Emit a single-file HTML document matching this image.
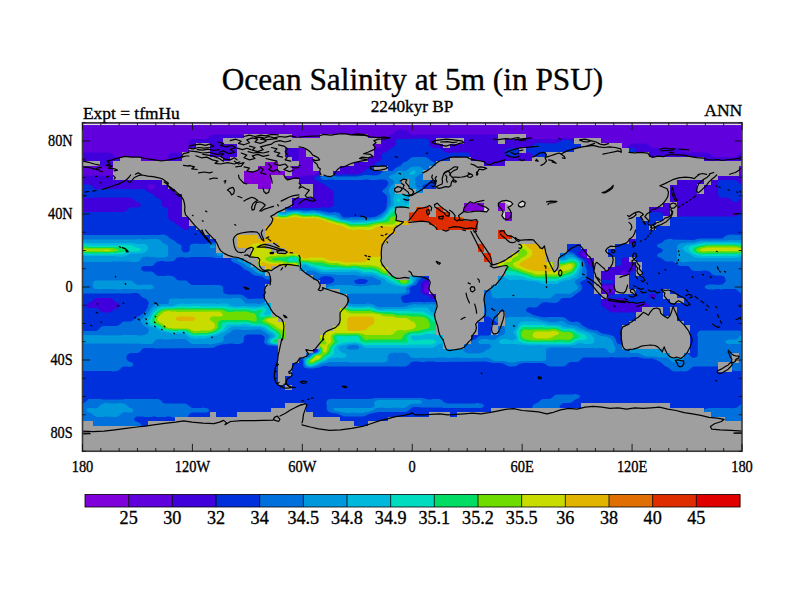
<!DOCTYPE html>
<html><head><meta charset="utf-8"><title>Ocean Salinity</title>
<style>html,body{margin:0;padding:0;background:#fff;width:800px;height:600px;overflow:hidden}</style></head>
<body>
<svg width="800" height="600" viewBox="0 0 800 600" style="position:absolute;left:0;top:0">
<rect width="800" height="600" fill="#fff"/>
<rect x="82.5" y="122.75" width="659.5" height="328.5" fill="#0030dc"/>
<clipPath id="pc"><rect x="82.5" y="122.75" width="659.5" height="328.5"/></clipPath>
<g clip-path="url(#pc)">
<rect x="82.5" y="122.75" width="659.5" height="328.5" fill="#8000dc"/>
<path fill="#6000dc" fill-rule="evenodd" d="M82.8 123.0L82.8 451.0L741.8 451.0L741.8 123.0ZM452.8 194.0L455.2 192.5L456.2 192.5L465.2 186.0L467.8 185.5L468.2 185.0L474.2 185.0L474.8 185.5L479.2 185.5L479.8 185.0L528.2 185.0L528.8 185.5L531.8 185.5L537.8 188.0L539.8 188.0L540.2 188.5L545.2 188.5L545.8 189.0L548.8 189.0L549.2 189.5L550.2 189.5L553.2 191.0L555.8 193.0L557.2 193.5L565.2 199.0L566.8 200.5L566.8 203.0L562.8 206.5L559.2 208.0L556.8 210.0L554.8 210.5L547.8 214.5L544.8 215.0L541.2 217.0L534.2 218.0L531.8 219.5L527.8 220.5L522.8 223.5L512.2 223.5L511.8 223.0L509.2 223.0L508.8 223.5L502.8 223.5L502.2 223.0L500.8 223.0L496.8 219.5L493.2 218.0L491.8 216.5L488.2 214.5L485.2 214.5L484.8 214.0L473.2 214.0L470.8 212.5L469.2 210.5L462.2 210.5L461.2 210.0L459.8 208.0L459.8 201.5L458.8 199.5L457.2 198.0L453.8 196.5L452.8 195.5ZM287.2 169.0L287.2 171.0L285.8 173.5L285.2 175.5L282.2 178.5L280.8 179.0L278.8 181.0L278.8 183.0L282.2 186.5L282.2 188.5L279.8 192.5L279.8 193.5L276.2 196.5L274.8 196.5L274.2 197.0L265.8 197.5L265.2 198.0L263.8 198.0L263.2 198.5L262.2 198.5L258.8 200.0L256.8 200.0L256.2 200.5L250.2 200.5L249.8 201.0L247.2 201.0L245.2 202.0L242.2 204.5L241.2 204.5L240.8 205.0L238.2 205.0L237.8 205.5L230.2 205.5L229.8 205.0L227.8 205.0L219.8 202.0L217.2 199.0L216.2 194.0L215.8 193.5L215.8 184.5L217.2 181.5L220.2 179.0L236.8 168.0L241.8 165.5L245.2 164.5L248.8 162.5L251.2 159.5L251.8 156.0L252.8 154.0L255.2 152.0L256.2 152.0L259.8 150.5L264.2 150.5L269.8 153.0L281.8 161.0L283.8 163.0Z"/>
<path fill="#4000dc" fill-rule="evenodd" d="M269.2 145.5L269.2 147.5L272.8 151.0L277.8 154.0L280.8 156.5L283.8 158.0L289.2 163.5L291.8 163.5L292.2 163.0L293.2 163.0L297.8 160.5L298.8 159.0L298.8 149.5L300.8 146.0L299.2 145.0L296.2 145.0L295.8 144.5L293.2 144.5L292.8 144.0L290.2 144.0L289.8 143.5L286.8 143.5L286.2 143.0L284.2 143.0L283.8 142.5L275.8 142.5L275.2 143.0L272.2 143.5ZM82.8 153.0L82.8 164.5L83.2 164.0L87.8 164.0L88.2 163.5L93.8 163.5L94.2 164.0L96.2 164.0L96.8 164.5L97.8 164.5L99.8 165.5L101.8 165.5L102.2 166.0L113.8 166.0L114.2 165.5L114.8 166.0L116.8 166.0L121.8 169.5L121.8 171.0L118.8 174.0L114.8 175.5L82.8 175.5L82.8 451.0L741.8 451.0L741.8 175.5L741.2 175.0L739.2 175.0L736.2 173.5L733.2 171.5L730.8 169.0L730.8 167.5L732.8 165.5L735.8 165.0L736.2 164.5L741.8 164.5L741.8 153.0L740.8 153.0L736.8 156.5L734.2 157.5L728.8 157.5L728.2 157.0L715.8 157.5L715.2 157.0L712.8 156.5L709.8 153.5L707.2 152.5L691.8 152.5L691.2 153.0L688.8 153.0L688.2 152.5L686.2 152.5L685.2 152.0L682.2 149.0L680.2 148.0L656.8 148.0L656.2 148.5L655.2 148.5L654.8 148.0L652.2 148.0L651.2 147.5L647.2 144.0L646.2 144.0L645.8 143.5L633.8 143.5L633.2 144.0L631.2 144.0L629.2 145.0L623.8 149.5L620.8 151.0L611.8 157.0L607.8 160.5L604.2 161.0L602.8 159.5L601.2 156.0L599.8 154.5L597.8 153.5L595.2 151.0L593.2 146.5L590.8 144.0L587.2 142.0L586.2 142.0L582.8 140.5L579.2 140.0L577.2 139.0L573.8 138.5L573.2 138.0L560.8 138.0L560.2 138.5L558.2 138.5L557.8 139.0L555.8 139.0L555.2 139.5L550.2 139.5L549.8 139.0L537.2 139.5L536.8 139.0L528.8 139.0L528.2 138.5L525.8 138.5L523.8 137.5L519.8 137.0L519.2 136.5L505.2 137.5L504.8 137.0L502.2 137.0L500.8 136.0L499.8 136.0L498.2 135.0L496.8 135.0L496.2 134.5L417.8 134.5L417.2 135.0L413.8 135.0L413.2 134.5L411.2 134.5L410.2 134.0L408.8 132.0L406.2 130.0L405.2 130.0L404.8 129.5L399.2 129.5L396.8 130.5L393.8 133.5L388.8 136.0L386.2 138.5L380.8 140.0L380.2 140.5L380.2 142.5L381.2 144.0L381.2 146.5L379.2 148.0L373.8 148.0L373.2 147.5L372.2 147.5L370.2 146.0L368.2 146.0L366.8 147.0L363.8 147.5L363.2 148.0L342.8 148.0L342.2 148.5L340.2 148.5L338.8 149.5L337.8 149.5L330.2 155.5L328.2 156.5L327.2 158.0L326.2 160.5L326.2 162.5L327.8 165.0L327.8 166.5L326.8 168.0L323.2 170.0L322.2 170.0L320.2 171.0L317.2 173.5L313.8 175.0L310.8 175.0L310.2 175.5L301.8 175.5L300.8 176.0L298.8 178.0L298.2 179.5L294.8 183.0L292.2 184.5L286.8 190.0L284.8 194.0L281.8 197.0L280.8 197.0L278.8 198.0L272.2 198.5L271.8 199.0L269.2 199.0L268.8 199.5L263.8 200.0L263.2 200.5L249.8 201.5L241.8 205.5L235.8 206.0L235.2 206.5L232.8 206.5L232.2 207.0L229.8 207.0L229.2 207.5L225.2 207.0L224.8 206.5L217.8 204.5L215.2 202.0L214.2 199.5L210.2 195.5L210.2 194.5L209.8 194.0L209.8 185.5L211.2 182.0L216.8 177.0L227.2 170.0L228.8 169.5L233.2 166.0L235.8 165.0L236.8 164.0L240.2 162.5L241.2 161.5L246.2 159.0L248.2 156.5L249.8 152.5L252.2 150.0L256.2 148.0L258.2 146.0L258.2 144.5L257.8 144.0L254.2 142.5L250.2 139.5L246.8 138.0L242.8 135.0L241.8 135.0L241.2 134.5L212.8 134.5L210.8 135.5L208.2 138.0L206.2 139.0L192.2 139.0L191.8 139.5L190.8 139.5L189.2 141.0L189.2 142.0L188.8 142.5L189.2 145.5L191.8 148.5L194.2 150.0L196.2 152.0L197.8 155.0L197.2 157.5L195.8 158.5L191.8 158.5L188.2 157.0L185.2 154.5L183.2 153.5L179.2 153.0L178.8 152.5L172.2 152.5L171.8 153.0L170.8 153.0L168.8 154.5L168.8 155.5L168.2 156.0L168.2 157.5L168.8 158.0L168.8 165.0L169.2 165.5L168.8 168.0L166.2 169.5L165.2 169.5L164.8 170.0L162.2 170.0L161.8 170.5L155.2 170.5L154.8 171.0L137.2 171.0L136.8 170.5L134.8 170.5L134.2 170.0L131.8 169.5L128.8 167.0L128.8 165.0L126.2 162.0L122.8 160.5L120.2 158.5L115.2 156.5L111.2 153.0L110.2 153.0L109.8 152.5L83.2 152.5ZM600.8 289.5L601.2 287.5L603.2 286.0L605.2 286.0L605.8 285.5L615.8 286.0L617.2 287.5L616.8 289.5L614.8 291.5L612.8 292.5L609.2 293.0L608.8 293.5L604.8 293.5L602.8 292.5L601.2 291.0L601.2 290.0ZM423.8 291.0L423.8 287.5L426.2 284.5L431.2 284.5L434.2 286.5L434.2 288.0L433.2 289.5L429.2 293.0L426.8 293.0L426.2 292.5L425.2 292.5ZM621.2 272.0L623.8 270.5L624.8 270.5L625.8 271.0L627.2 273.0L625.8 275.0L623.8 275.5L623.2 275.0L622.2 275.0L621.2 274.0ZM588.2 252.5L588.2 254.5L585.8 256.5L584.2 256.5L581.8 254.5L582.2 253.5L584.2 252.0L586.2 252.0L586.8 251.5ZM147.8 185.5L148.8 184.5L149.8 184.5L150.2 184.0L153.2 184.5L154.8 186.0L154.8 188.0L152.8 189.5L149.8 189.0L147.8 187.0ZM571.8 202.5L569.8 204.5L564.2 207.5L563.2 208.5L560.8 209.5L559.8 210.5L553.2 213.5L550.2 215.5L549.2 215.5L541.2 219.5L537.8 220.0L534.2 221.5L529.2 222.0L525.2 224.0L523.8 224.0L523.2 224.5L502.2 224.0L501.8 223.5L499.2 223.0L495.2 220.0L491.8 218.5L489.2 216.5L485.8 215.0L482.8 215.0L482.2 214.5L472.8 214.5L469.2 213.0L468.2 212.0L467.2 212.0L466.8 211.5L463.2 211.5L460.8 210.5L458.8 208.0L458.8 206.0L458.2 205.5L457.8 202.0L456.8 200.0L455.2 198.5L450.8 196.0L449.2 194.0L450.8 192.5L452.8 192.0L456.8 189.5L462.2 185.0L466.8 183.0L531.2 183.0L531.8 182.5L537.2 182.5L542.2 184.5L549.8 186.0L555.8 188.5L556.8 189.5L558.2 190.0L560.8 192.0L562.2 192.5L569.8 197.5L571.8 200.0Z"/>
<path fill="#0030dc" fill-rule="evenodd" d="M718.2 181.5L718.2 195.5L719.2 197.0L720.2 197.5L722.2 197.5L722.8 198.0L723.8 198.0L724.2 197.5L728.8 198.0L733.8 202.0L736.8 202.0L738.2 201.0L739.8 199.0L741.8 198.0L741.8 184.5L740.2 184.0L736.8 180.5L735.8 180.5L735.2 180.0L720.8 180.0L720.2 180.5L719.2 180.5ZM504.8 152.0L505.2 154.5L506.8 156.0L507.8 156.5L509.8 156.5L510.2 157.0L513.8 157.0L514.2 156.5L515.8 156.5L518.2 155.0L519.2 153.5L519.8 150.5L518.2 149.0L515.2 148.5L514.8 148.0L509.2 148.0L508.8 148.5L507.2 148.5L505.8 149.5ZM82.8 184.5L82.8 198.0L83.8 197.5L88.8 197.5L89.2 198.0L93.8 198.0L94.2 197.5L129.8 197.5L132.2 198.5L136.8 202.0L138.8 202.5L140.8 204.5L140.8 205.5L138.2 207.5L129.8 207.5L125.2 211.5L124.2 211.5L123.8 212.0L82.8 212.0L82.8 451.0L741.8 451.0L741.8 212.0L739.8 213.0L736.8 216.0L735.8 216.0L735.2 216.5L678.8 216.5L678.2 216.0L676.2 216.0L675.8 215.5L672.2 215.5L668.8 217.0L666.2 217.0L665.8 216.5L664.8 216.5L661.8 213.0L659.8 212.0L650.2 212.0L649.8 211.5L648.2 211.5L645.2 209.5L639.8 208.5L636.8 207.0L635.8 206.0L630.2 203.5L627.8 201.5L626.2 201.0L619.8 196.5L618.2 196.0L609.8 190.0L606.8 188.5L604.2 186.0L603.8 184.0L605.8 181.0L611.8 178.0L615.2 175.0L618.2 173.5L622.2 170.0L626.2 167.5L633.2 160.5L633.8 159.0L632.2 157.0L632.2 155.0L634.2 153.5L635.2 152.0L635.2 149.5L634.8 148.5L633.8 148.0L631.8 148.0L629.8 149.0L626.2 152.0L623.2 153.5L618.8 157.0L614.8 159.0L611.2 162.0L606.8 164.5L603.8 165.0L603.2 165.5L600.8 165.5L600.2 165.0L599.2 165.0L598.2 164.0L598.8 161.0L599.2 160.5L598.8 158.5L596.8 156.5L595.2 156.0L588.8 149.5L587.8 147.0L585.8 145.0L583.2 144.0L581.2 144.0L580.8 143.5L577.8 143.5L574.2 142.0L573.2 141.0L572.2 141.0L570.2 140.0L563.2 140.0L555.8 143.5L549.8 143.5L549.2 143.0L542.8 143.5L542.2 143.0L536.8 143.0L536.2 143.5L534.8 143.5L531.2 147.0L529.2 148.0L526.8 148.5L524.8 150.0L526.2 151.5L528.2 152.0L529.8 153.0L530.8 153.0L533.2 155.5L533.8 157.0L535.8 159.0L538.2 160.5L541.2 163.5L545.8 166.0L547.8 168.0L550.8 169.5L555.2 173.0L558.2 174.5L561.2 177.0L565.8 179.5L568.8 182.0L571.8 183.5L576.2 187.0L579.8 189.0L582.2 192.0L582.2 195.5L579.2 198.5L578.8 199.5L579.2 201.5L582.8 205.0L586.2 206.5L590.2 210.0L593.8 211.5L595.8 213.5L601.2 216.5L603.8 219.0L607.2 220.5L610.8 223.5L614.8 225.5L618.2 228.5L620.8 229.5L624.8 233.0L627.2 234.0L629.8 236.5L633.8 238.5L635.8 240.5L635.8 242.0L634.2 243.5L633.2 243.5L632.8 244.0L629.8 243.5L625.8 240.5L622.2 239.0L618.8 236.0L615.2 234.5L613.2 232.5L609.2 230.5L605.8 227.5L603.2 226.5L600.2 224.5L598.2 222.5L594.8 221.0L592.8 219.0L586.8 215.5L584.2 213.0L581.2 211.5L577.8 208.0L574.2 206.5L570.2 206.5L568.8 207.5L567.8 207.5L565.8 209.0L542.2 220.5L538.2 221.5L536.8 222.5L532.2 223.0L531.8 223.5L529.2 223.5L527.2 224.5L523.2 225.0L522.8 225.5L517.8 225.5L517.2 225.0L514.2 225.0L513.8 224.5L503.2 224.5L502.8 224.0L500.2 224.0L499.8 223.5L498.8 223.5L493.8 220.0L490.2 218.5L487.8 216.5L485.2 215.5L482.8 215.5L482.2 215.0L472.8 215.0L472.2 214.5L470.8 214.5L466.8 212.5L461.2 211.5L459.8 210.5L458.2 208.5L456.2 202.0L455.2 200.0L453.8 198.5L445.8 194.5L437.8 194.5L436.8 193.5L438.2 192.5L444.8 193.0L445.2 192.5L447.8 192.0L449.2 191.0L450.2 191.0L452.8 189.5L456.8 185.5L460.8 183.0L462.8 181.0L462.8 179.5L461.2 177.5L460.8 174.5L460.2 174.0L460.2 167.5L462.8 162.5L464.8 160.5L468.2 158.5L469.8 157.0L470.2 154.5L468.8 153.0L467.8 153.0L467.2 152.5L452.2 152.5L451.8 153.0L447.8 153.0L447.2 152.5L444.8 152.0L441.2 148.5L440.2 148.5L439.8 148.0L432.2 148.0L429.2 145.5L429.2 141.5L428.8 141.0L428.8 140.0L427.2 139.0L425.8 139.0L425.2 138.5L411.2 138.5L410.8 139.0L398.2 139.0L397.8 139.5L396.8 139.5L395.2 141.5L395.2 142.5L395.8 143.0L395.2 145.5L393.2 147.5L391.2 148.5L390.2 148.5L387.2 151.5L384.2 153.0L383.2 153.0L381.8 154.5L381.8 158.5L379.8 161.0L376.2 162.5L372.8 165.5L369.2 167.0L364.2 171.5L358.8 174.0L356.8 174.0L356.2 174.5L350.8 174.5L350.2 174.0L337.8 174.5L337.2 174.0L334.8 173.5L331.2 170.5L327.8 170.5L327.2 171.0L324.2 171.5L318.2 175.5L314.8 177.0L313.8 178.0L314.8 179.5L325.2 185.0L326.8 187.0L331.8 189.5L333.2 191.0L333.8 192.0L333.8 195.5L333.2 196.0L333.8 204.0L332.8 206.0L331.2 207.0L330.2 207.0L329.8 207.5L320.8 207.5L320.2 208.0L299.8 208.0L299.2 208.5L291.2 208.5L289.2 207.0L288.8 205.0L283.8 203.5L281.2 201.0L279.2 200.0L272.8 200.0L272.2 200.5L270.2 200.5L269.8 201.0L267.8 201.0L267.2 201.5L253.2 201.5L252.8 202.0L250.2 202.0L249.8 202.5L248.8 202.5L245.2 205.0L244.2 205.0L242.2 206.0L236.8 206.5L236.2 207.0L234.8 207.0L234.2 207.5L228.8 209.0L225.8 211.0L224.8 211.0L221.8 208.5L220.8 208.5L220.2 208.0L217.2 208.0L196.8 221.5L194.8 223.5L191.2 225.5L190.2 227.0L186.8 230.0L183.2 229.5L180.2 226.5L175.8 224.0L173.8 222.0L170.2 220.5L167.8 217.5L168.2 210.0L167.2 208.5L162.8 206.5L161.2 204.5L161.2 200.5L159.8 199.0L156.2 197.5L152.8 194.0L148.2 192.0L143.8 189.0L136.2 189.0L135.8 189.5L131.8 189.5L131.2 189.0L102.8 189.0L102.2 189.5L97.2 189.5L96.8 189.0L95.2 189.0L93.8 188.0L90.8 185.0L89.2 185.0L88.8 184.5ZM312.2 349.5L312.8 349.0L315.2 349.0L316.8 350.5L315.8 351.5L314.2 352.0L312.8 351.0ZM300.8 342.0L301.8 341.0L303.8 341.0L306.8 343.5L308.8 344.5L311.2 347.5L310.2 348.5L305.8 348.5L305.2 348.0L304.2 348.0L301.2 344.5ZM86.2 306.5L86.2 304.5L87.2 303.5L91.8 301.5L94.8 298.5L95.8 298.5L96.2 298.0L110.2 298.0L112.2 299.0L115.2 302.0L118.2 303.0L120.2 305.0L119.2 307.0L116.2 308.5L115.2 308.5L111.8 311.5L109.8 312.5L103.2 312.5L101.2 311.5L97.2 308.0L88.8 308.0ZM648.8 296.0L650.2 294.0L653.8 293.5L656.2 295.5L656.2 297.0L654.8 298.5L651.2 298.5L650.2 298.0ZM457.2 283.5L457.2 286.0L456.8 286.5L455.8 291.5L453.2 294.0L450.8 295.0L445.2 295.0L444.8 295.5L441.8 295.5L434.2 299.0L431.8 299.0L430.8 298.5L428.8 296.0L426.2 295.0L424.8 295.0L422.8 294.0L420.8 292.0L420.8 284.5L421.2 284.0L421.2 283.0L422.8 281.5L424.8 280.5L431.8 278.5L433.2 277.5L435.2 277.5L435.8 277.0L438.8 277.0L439.2 277.5L441.2 277.5L441.8 278.0L444.2 278.0L446.2 277.0L447.8 274.0L449.2 272.5L450.8 272.5L452.8 274.0L453.2 276.5L453.8 277.0L453.8 278.5L454.8 280.5ZM435.8 257.0L436.2 256.5L437.2 256.5L437.8 257.0L437.2 257.5L436.2 257.5ZM578.2 252.5L589.2 242.5L592.8 241.0L596.8 241.0L598.8 243.0L598.8 244.5L599.2 245.0L599.2 250.5L601.2 253.5L601.2 255.0L601.8 255.5L601.8 256.5L601.2 257.0L601.2 259.5L602.2 261.0L604.8 261.5L605.2 262.0L607.8 262.0L608.2 262.5L609.2 262.5L612.8 265.0L615.2 266.0L619.8 266.0L620.8 265.5L621.8 264.0L621.8 262.5L621.2 262.0L621.2 260.0L621.8 259.0L623.8 257.5L628.2 257.5L628.8 258.0L629.8 258.0L635.8 262.5L637.2 264.0L638.2 266.0L637.8 268.5L636.8 269.5L631.8 271.5L629.2 276.5L627.2 278.0L624.2 279.0L622.8 280.5L622.8 288.0L621.8 290.5L619.8 292.5L616.8 294.0L615.2 294.0L614.8 294.5L609.8 295.5L608.8 297.0L610.8 298.5L624.8 298.0L627.2 299.0L630.2 302.0L632.8 303.0L638.8 303.0L639.2 302.5L645.2 302.5L645.8 303.0L646.8 303.0L647.8 303.5L649.8 306.0L650.2 310.0L651.2 312.0L651.2 316.5L649.8 318.0L646.2 318.5L641.2 316.5L638.2 314.0L634.8 312.5L611.8 312.5L608.8 311.0L606.2 308.5L602.8 307.0L600.8 305.0L601.2 297.0L600.8 296.0L596.2 291.5L596.2 286.0L596.8 285.5L596.8 284.5L597.8 283.0L602.2 283.0L602.8 283.5L611.8 283.5L612.8 283.0L613.8 281.5L611.8 280.0L601.8 280.0L601.2 279.5L600.2 279.5L598.8 276.5L598.8 273.0L598.2 272.5L598.2 271.0L597.8 270.5L597.2 268.0L595.8 267.0L592.8 267.0L592.2 266.5L590.8 266.5L589.2 265.5L587.8 263.0L587.8 262.0L586.8 260.0L580.8 257.0L578.2 254.5ZM217.2 228.0L217.8 228.5L217.8 229.5L216.8 230.5L215.8 229.0Z"/>
<path fill="#0070dc" fill-rule="evenodd" d="M741.8 403.5L737.8 407.0L735.8 408.0L732.8 408.0L732.2 408.5L731.2 408.5L730.8 408.0L707.8 408.0L707.2 408.5L704.8 409.0L701.8 411.5L698.2 413.0L695.2 415.5L691.2 417.5L688.2 420.0L685.2 421.5L680.8 425.0L676.2 427.5L674.8 429.0L670.8 431.0L667.2 434.0L664.8 435.0L661.8 437.5L657.2 440.0L646.8 447.5L641.2 450.0L640.2 451.0L741.8 451.0ZM82.8 451.0L142.8 451.0L142.8 446.5L142.2 446.0L142.8 437.5L141.8 435.5L141.8 432.5L143.2 430.5L143.2 428.5L141.8 426.5L140.8 424.0L139.8 423.0L135.2 421.0L134.2 420.0L134.2 418.5L135.8 417.0L136.8 416.5L143.2 416.5L143.8 417.0L152.2 417.0L152.8 416.5L155.8 416.5L156.2 417.0L166.2 417.0L166.8 416.5L170.2 416.5L170.8 417.0L174.2 417.5L176.8 419.5L180.2 421.0L181.8 421.0L184.2 422.0L187.8 422.0L188.8 421.0L188.2 416.0L189.8 413.5L191.8 412.5L206.8 412.5L208.8 411.5L208.8 409.5L206.8 408.0L203.8 408.0L203.2 407.5L202.2 407.5L201.8 408.0L192.8 408.0L190.2 407.0L188.2 405.0L185.2 403.5L164.8 403.5L164.2 403.0L163.2 403.0L160.2 400.0L158.2 399.0L124.2 399.0L123.8 399.5L101.8 399.5L101.2 399.0L88.8 399.0L84.8 402.5L82.8 403.5ZM326.2 402.5L326.2 404.0L326.8 404.5L326.8 409.5L328.8 412.0L331.8 412.5L332.2 413.0L337.2 413.5L343.8 416.5L363.8 416.5L370.2 413.5L372.2 413.5L372.8 413.0L374.8 413.0L375.2 412.5L377.2 412.5L377.8 412.0L405.8 412.0L407.8 411.0L411.8 407.5L412.8 407.5L413.2 407.0L419.2 407.0L419.8 407.5L442.8 407.5L443.2 408.0L480.8 408.0L483.2 407.0L483.8 406.0L483.8 405.0L481.8 403.5L479.2 403.5L478.8 403.0L476.2 403.0L475.8 403.5L447.2 403.5L443.8 402.0L441.8 400.0L439.2 399.0L431.8 399.0L431.2 399.5L427.8 399.5L427.2 399.0L425.2 399.0L424.8 398.5L422.8 398.5L422.2 398.0L374.8 398.0L374.2 398.5L371.8 398.5L371.2 399.0L329.8 399.0L329.2 399.5L328.2 399.5L326.8 401.0L326.8 402.0ZM579.2 395.0L576.8 394.5L576.2 394.0L573.8 394.0L573.2 394.5L556.2 394.5L554.2 395.5L551.2 398.5L550.2 398.5L549.8 399.0L542.8 399.0L542.2 399.5L541.2 399.5L538.8 402.0L533.8 404.5L532.2 407.0L532.2 409.0L532.8 409.5L532.8 411.5L533.2 412.0L532.8 412.5L532.8 426.0L533.2 426.5L533.2 430.0L533.8 430.5L533.8 431.5L536.2 435.0L543.8 441.0L547.2 442.5L548.2 443.5L552.2 445.5L553.8 445.5L554.2 446.0L556.2 446.0L557.2 445.5L557.8 444.5L557.2 443.5L557.2 440.5L557.8 440.0L558.2 436.0L558.8 435.5L559.2 425.0L559.8 424.5L559.8 409.0L559.2 408.5L559.8 407.5L559.8 405.5L562.8 403.0L570.2 403.0L570.8 402.5L571.8 402.5L575.2 399.5L578.2 398.5L579.8 397.0L579.8 395.5ZM741.8 293.5L741.8 235.0L729.2 234.5L728.8 235.0L726.2 235.5L722.2 238.5L698.8 238.5L698.2 239.0L696.8 239.0L694.2 240.0L672.2 239.5L671.8 239.0L668.2 239.0L667.8 239.5L665.8 239.5L664.8 240.0L662.8 242.0L660.2 243.5L658.2 244.0L656.8 245.5L658.2 247.5L661.2 248.5L662.8 250.0L662.8 251.0L661.2 252.5L658.2 253.5L656.8 255.5L658.2 257.0L661.2 258.0L665.8 261.5L672.8 261.5L676.2 263.5L677.8 265.0L680.2 266.0L687.8 266.0L688.8 266.5L691.8 270.0L694.2 271.0L701.8 271.0L702.2 270.5L706.2 270.5L710.2 272.0L712.2 274.5L714.8 275.5L721.8 275.5L722.2 276.0L723.2 276.0L724.8 277.5L725.8 280.0L725.2 282.0L723.2 284.0L722.2 284.5L719.8 284.5L719.2 285.0L716.8 285.0L716.2 284.5L708.2 284.5L705.8 285.5L704.8 286.5L704.8 287.5L706.2 289.0L707.8 289.0L708.2 289.5L714.8 289.5L715.2 289.0L719.8 289.0L720.2 289.5L722.8 289.5L723.2 289.0L735.2 289.0L737.2 290.0L740.2 293.0L741.2 293.0ZM741.8 331.0L740.2 331.0L739.8 330.5L700.8 330.5L700.2 331.0L699.2 331.0L697.8 332.5L697.8 333.5L697.2 334.0L697.2 336.0L697.8 336.5L697.8 355.5L696.8 357.0L693.2 358.0L692.8 357.5L691.8 357.5L687.2 352.5L685.2 351.5L682.8 349.0L682.2 347.5L678.8 343.5L677.2 339.5L675.2 337.5L669.8 335.0L668.2 335.0L667.8 334.5L664.2 334.5L663.8 334.0L649.2 334.0L648.8 334.5L644.2 334.5L643.8 335.0L641.8 335.0L641.2 335.5L638.2 336.0L635.2 337.5L634.2 338.5L626.2 342.0L623.8 344.0L622.8 344.0L622.2 344.5L619.8 344.5L619.2 344.0L618.2 344.0L616.8 342.5L614.8 337.5L612.2 335.5L609.2 335.0L608.8 334.5L606.8 334.5L606.2 334.0L603.8 334.0L600.2 332.5L597.2 330.5L592.2 330.0L591.8 329.5L588.8 329.0L583.2 326.0L578.8 322.0L577.2 322.0L576.8 321.5L575.2 321.5L574.8 322.0L571.2 322.0L568.2 320.5L564.8 317.5L563.2 317.5L562.8 317.0L547.2 317.0L546.8 317.5L540.8 317.0L540.2 316.5L536.2 316.0L535.8 315.5L533.2 315.0L529.8 313.0L527.8 312.5L525.8 310.5L525.8 309.5L527.8 307.5L529.2 307.5L529.8 307.0L530.8 307.0L531.2 307.5L536.2 307.5L538.2 306.5L538.8 305.5L542.2 302.5L545.2 302.5L545.8 302.0L546.8 302.0L547.2 302.5L555.8 303.0L556.2 302.5L557.8 302.5L560.8 299.0L562.8 298.0L570.2 298.0L570.8 297.5L571.8 297.5L575.2 294.5L578.8 292.5L581.2 290.0L581.8 289.0L581.8 286.0L580.2 283.5L580.2 282.5L581.8 281.0L585.2 279.5L586.8 278.0L586.8 269.5L585.2 266.0L585.2 264.5L584.8 264.0L584.2 261.5L581.8 259.0L577.2 256.5L573.8 253.0L572.8 253.0L570.8 252.0L569.2 252.0L563.8 249.0L562.8 249.0L561.8 248.0L561.8 242.5L561.2 241.5L556.8 238.0L556.8 236.0L558.2 234.5L561.2 233.0L562.8 230.5L566.2 227.0L570.2 219.0L570.8 216.0L571.8 214.0L573.8 212.0L573.8 210.5L572.8 209.5L570.2 209.0L564.8 211.5L563.8 211.5L561.2 213.0L560.2 213.0L555.8 215.5L554.8 215.5L544.8 220.5L543.8 220.5L537.2 223.5L533.8 224.0L533.2 224.5L530.2 224.5L529.8 225.0L527.8 225.0L527.2 225.5L525.2 225.5L524.8 226.0L516.8 226.0L516.2 225.5L510.2 225.0L509.8 224.5L500.2 224.5L496.8 223.0L494.2 221.0L490.8 219.5L487.2 217.0L484.8 216.0L483.2 216.0L482.8 215.5L472.8 215.5L472.2 215.0L470.8 215.0L470.2 214.5L467.8 214.0L466.2 213.0L461.2 212.0L458.2 209.5L455.2 203.5L454.8 201.0L451.8 198.0L446.8 196.0L435.2 196.0L434.8 195.5L432.8 195.5L430.8 194.5L427.8 191.0L425.2 189.5L422.2 186.5L423.8 184.5L424.8 184.5L428.2 183.0L429.8 181.5L431.2 178.5L435.2 175.5L438.8 174.0L445.2 173.0L446.2 172.0L445.2 169.5L442.8 167.0L438.8 165.0L436.2 163.0L431.2 161.0L427.8 158.0L425.2 157.0L412.8 157.0L412.2 157.5L411.2 157.5L407.2 161.0L405.2 162.0L404.2 162.0L402.2 163.5L402.2 164.0L400.2 166.0L396.2 167.5L392.8 170.5L391.8 171.0L383.8 170.5L379.8 174.5L377.2 175.0L376.8 175.5L363.8 175.0L363.2 175.5L359.2 176.0L358.8 176.5L335.8 176.5L335.2 176.0L333.8 176.0L329.8 173.5L325.8 173.5L322.8 175.0L320.2 177.5L321.2 179.0L323.8 180.0L327.2 180.0L327.8 179.5L333.8 179.5L334.2 180.0L363.2 180.0L363.8 179.5L368.8 179.5L369.2 180.0L377.8 180.0L378.2 179.5L384.2 179.5L386.8 180.5L388.2 182.0L388.2 184.0L387.2 186.0L383.8 189.5L383.2 189.5L382.2 191.0L382.2 191.5L384.2 193.5L384.8 193.5L387.2 196.5L387.2 203.0L386.8 203.5L386.8 206.5L386.2 207.0L386.2 208.0L385.2 210.0L383.2 212.0L378.2 215.5L374.2 217.0L371.2 217.0L370.8 217.5L367.2 217.5L366.8 217.0L349.8 217.0L349.2 217.5L343.8 217.5L342.8 217.0L339.2 213.0L338.2 212.5L336.2 212.5L335.8 212.0L334.2 212.0L333.8 212.5L328.2 212.5L327.8 212.0L325.8 212.0L325.2 211.5L321.2 211.0L320.8 210.5L315.2 210.5L314.8 210.0L310.2 210.0L309.8 210.5L302.8 210.5L302.2 210.0L287.8 210.0L284.2 207.0L279.8 205.5L275.8 202.0L272.2 202.0L271.8 202.5L253.2 202.0L252.8 202.5L249.2 203.0L244.2 206.0L237.2 207.0L231.8 209.0L228.8 211.5L227.8 213.5L226.2 215.0L222.8 216.5L219.2 220.0L216.2 221.5L215.8 223.5L220.2 227.5L220.2 229.0L220.8 229.5L220.8 237.0L217.8 241.5L215.8 242.5L208.8 243.0L208.2 243.5L206.2 243.5L205.8 244.0L197.8 244.0L197.2 243.5L191.8 244.0L190.8 244.5L189.8 246.0L189.8 250.0L189.2 251.0L187.2 252.5L184.2 252.5L183.2 252.0L181.2 249.5L181.8 246.5L180.2 244.5L176.8 243.0L174.2 240.5L169.8 238.5L166.8 235.5L164.2 234.5L161.2 234.5L160.8 235.0L82.8 235.0L82.8 293.5L118.2 293.5L118.8 293.0L119.2 293.5L131.8 293.5L132.2 293.0L136.8 293.0L139.2 294.0L141.8 297.0L146.2 299.0L148.2 301.0L148.2 302.0L148.8 302.5L148.8 304.0L148.2 304.5L147.8 307.0L145.8 311.0L140.2 315.5L136.8 317.0L132.2 321.0L131.2 321.0L130.8 321.5L123.2 321.5L119.8 324.5L116.8 326.0L102.8 326.0L100.8 327.0L98.2 330.0L95.8 331.0L82.8 331.0L82.8 371.0L111.8 371.0L112.2 371.5L114.8 371.5L115.2 371.0L117.2 371.0L119.2 370.0L122.2 367.0L123.2 367.0L123.8 366.5L127.8 366.5L128.2 367.0L131.8 366.5L133.2 365.5L133.2 364.0L131.8 362.5L128.8 361.5L126.8 359.5L126.2 357.0L127.2 355.0L128.2 354.0L130.8 353.0L137.8 353.0L139.8 352.0L142.2 349.0L144.2 348.0L153.8 348.0L154.2 348.5L213.2 348.0L217.8 345.5L220.8 345.0L221.2 344.5L228.2 344.0L228.8 343.5L232.8 343.5L233.2 344.0L239.8 344.0L240.2 343.5L241.8 343.5L243.8 341.5L243.8 337.0L245.8 335.0L246.8 335.0L247.2 334.5L260.8 334.5L261.2 335.0L262.2 335.0L264.8 337.0L264.2 342.5L265.2 344.0L269.2 345.5L273.2 345.5L273.8 346.0L275.8 346.0L278.2 347.0L279.8 348.5L281.8 349.5L285.8 350.0L286.2 350.5L287.8 350.5L290.2 351.5L295.8 351.5L299.8 349.0L300.8 348.0L300.8 346.0L299.8 344.0L299.8 342.0L300.2 341.0L301.8 340.0L304.8 340.5L306.8 342.5L310.2 344.5L313.2 347.5L315.2 348.5L316.2 348.5L317.8 350.0L317.8 351.0L316.2 352.5L311.8 352.5L309.8 350.0L308.8 349.5L306.8 349.5L304.2 350.5L301.8 352.5L299.2 352.5L298.8 353.0L297.8 353.0L297.2 354.0L297.2 356.5L298.2 357.5L300.2 358.0L302.8 359.5L302.8 360.5L303.2 361.0L303.2 366.0L303.8 367.0L305.2 368.0L306.8 368.0L307.2 368.5L314.2 368.5L314.8 368.0L319.2 367.5L323.2 366.0L327.8 366.0L328.2 366.5L405.8 366.5L407.8 365.5L411.2 362.0L412.8 362.0L413.2 361.5L419.2 361.5L419.8 362.0L425.2 362.0L425.8 361.5L434.8 361.5L435.2 362.0L486.8 361.5L487.2 362.0L491.2 362.5L491.8 363.0L501.2 363.0L501.8 363.5L503.2 363.5L508.8 366.5L514.8 366.5L517.2 365.5L519.2 364.0L522.2 363.5L522.8 363.0L542.8 363.0L543.2 363.5L545.8 364.0L547.2 365.5L549.2 366.5L563.8 366.5L565.8 365.5L568.8 362.5L569.8 362.5L570.2 362.0L577.2 362.0L577.8 361.5L578.8 361.5L581.8 358.5L583.8 357.5L609.8 357.5L610.2 357.0L613.2 357.0L613.8 357.5L630.8 357.5L631.2 357.0L638.2 357.0L638.8 357.5L642.8 358.0L643.2 358.5L652.8 358.5L653.2 359.0L654.2 359.0L661.2 362.5L664.8 366.0L668.2 367.5L672.2 371.0L673.8 371.0L674.2 371.5L679.2 371.5L679.8 371.0L681.2 371.0L681.8 371.5L685.2 371.5L685.8 371.0L687.8 371.0L691.8 367.5L693.8 366.5L721.8 366.5L722.2 367.0L724.8 367.0L725.2 367.5L727.8 368.0L733.8 371.0L741.8 371.0ZM306.8 355.0L307.8 354.0L308.8 354.5L308.2 355.5L307.2 355.5ZM458.8 309.0L460.2 307.5L462.2 307.0L464.8 308.0L468.8 311.5L472.8 313.5L473.8 313.5L475.8 314.5L477.2 314.5L480.8 316.0L485.8 316.0L486.2 316.5L488.2 316.5L490.2 317.5L492.8 320.0L495.8 321.5L497.8 323.5L497.8 327.0L495.8 329.0L494.2 329.5L492.8 331.0L490.8 334.5L488.8 335.5L480.8 335.5L480.2 336.0L479.2 336.0L474.8 339.5L473.2 339.5L472.8 340.0L469.8 339.5L466.8 337.5L463.2 338.0L460.8 336.5L459.8 334.0L459.8 332.0L459.2 331.5L459.2 327.0L460.8 324.5L460.8 322.5L459.2 319.5ZM467.2 280.0L468.2 279.0L469.2 279.0L470.2 280.0L469.8 280.5L467.8 280.5ZM354.2 282.0L354.2 281.0L355.2 280.0L357.8 279.5L358.2 279.0L364.2 279.0L364.8 279.5L366.2 279.5L367.8 280.5L367.8 281.5L366.2 283.0L364.2 284.0L357.2 284.0L356.8 283.5L355.8 283.5ZM334.2 279.5L334.2 281.0L332.2 283.0L329.8 283.5L329.2 284.0L327.8 284.0L327.2 284.5L325.8 284.5L323.8 285.5L321.2 287.5L315.8 290.0L305.2 297.0L303.8 297.0L303.2 297.5L300.8 297.0L298.8 294.5L300.8 292.0L302.2 291.5L305.8 288.5L310.8 285.5L313.8 282.5L316.8 281.0L321.8 276.5L323.8 276.5L324.2 276.0L330.2 276.5L332.8 277.5ZM289.2 287.5L284.2 292.0L283.2 292.0L282.8 292.5L280.2 292.5L279.8 293.0L276.8 293.0L265.8 298.0L264.2 298.0L263.8 298.5L248.2 299.0L242.2 295.0L241.2 295.0L240.8 294.5L227.2 294.5L226.8 294.0L225.2 294.0L223.2 292.0L223.2 287.5L222.8 286.5L220.2 285.0L192.2 285.0L190.2 284.0L186.2 280.5L178.8 280.5L178.2 280.0L177.2 280.0L174.2 277.0L172.2 276.0L170.2 276.0L169.8 275.5L166.8 275.5L166.2 276.0L158.2 276.0L156.2 275.0L152.8 272.0L151.8 272.0L151.2 271.5L143.8 271.5L141.2 269.5L141.2 267.5L143.8 266.0L151.8 266.0L153.8 265.0L154.8 263.5L157.2 261.5L159.2 261.5L159.8 261.0L163.2 261.0L163.8 261.5L172.2 261.5L174.2 260.5L177.2 257.5L178.8 257.5L179.2 257.0L183.8 257.0L184.2 257.5L189.8 257.5L190.2 257.0L212.2 257.0L212.8 257.5L214.8 257.5L215.2 258.0L222.8 258.0L227.8 256.0L229.8 256.0L231.8 257.0L231.8 258.0L230.8 260.0L232.8 262.0L234.8 263.0L235.8 263.0L240.2 265.5L244.2 269.0L249.2 271.5L252.8 274.5L254.8 275.5L261.8 276.5L266.8 279.5L271.2 279.5L273.2 278.5L275.2 278.5L280.8 281.5L281.8 281.5L285.2 285.0L288.2 286.0ZM463.2 285.0L463.2 290.0L462.8 290.5L462.2 294.5L460.8 297.5L458.8 299.5L455.2 301.0L452.8 301.0L452.2 301.5L439.2 301.5L438.8 302.0L425.8 302.0L425.2 302.5L423.2 302.5L422.8 302.0L411.8 302.0L411.2 302.5L408.8 302.5L408.2 303.0L403.8 303.0L401.8 301.0L401.8 300.0L400.8 298.0L402.2 296.0L404.2 295.0L405.8 295.0L406.2 294.5L408.8 294.0L410.2 292.0L409.2 288.5L411.2 286.5L415.8 285.0L417.8 282.5L418.2 281.0L424.8 275.0L427.2 270.5L428.2 264.5L430.2 262.5L431.2 262.0L437.2 262.0L437.8 261.5L437.8 261.0L436.8 260.5L431.8 260.5L429.2 258.5L429.2 257.5L430.8 256.0L433.2 255.0L439.8 255.0L443.8 258.0L445.2 258.5L447.2 260.5L447.2 261.5L447.8 262.0L447.2 264.5L447.8 265.0L447.8 266.5L448.8 268.0L449.8 268.5L454.2 273.0L456.2 278.5L458.2 280.5L460.8 281.5L462.8 283.5L462.8 284.5Z"/>
<path fill="#0098dc" fill-rule="evenodd" d="M86.8 409.0L86.8 411.0L87.2 411.5L91.8 413.5L93.8 415.5L97.2 417.0L103.8 417.0L104.2 416.5L116.2 417.0L118.8 416.0L121.8 413.0L124.2 412.0L126.2 412.0L126.8 412.5L131.2 412.5L133.2 411.5L133.2 409.5L132.8 409.0L129.2 407.5L125.2 404.0L124.2 403.5L122.2 403.5L121.8 403.0L118.2 403.0L117.8 403.5L109.2 403.5L108.8 403.0L104.2 403.0L103.8 403.5L101.2 404.0L100.2 405.5L97.2 408.0L95.8 408.0L95.2 408.5L93.8 408.5L93.2 408.0L88.2 408.0ZM422.2 402.0L420.8 400.5L419.8 400.5L419.2 400.0L378.2 400.0L377.8 400.5L376.2 400.5L374.2 402.0L374.8 406.0L373.2 407.5L371.2 407.5L370.8 408.0L334.8 408.0L333.8 408.5L333.2 409.5L334.2 410.5L335.2 410.5L335.8 411.0L339.8 411.5L340.2 412.0L344.2 412.5L344.8 413.0L350.2 413.0L350.8 412.5L363.2 413.0L363.8 412.5L368.2 412.0L368.8 411.5L370.2 411.5L370.8 411.0L373.2 410.5L375.2 408.5L376.2 408.0L378.8 408.0L379.2 407.5L383.2 407.5L383.8 408.0L392.2 408.0L392.8 407.5L404.2 408.0L404.8 407.5L405.8 407.5L409.8 404.5L410.8 404.5L411.2 404.0L413.8 404.0L414.2 403.5L418.2 404.0L418.8 403.5L420.8 403.5L421.8 403.0ZM300.8 355.0L300.8 356.0L302.8 356.5L302.8 355.0ZM628.8 349.5L629.2 352.0L630.8 353.0L638.2 353.0L644.2 356.0L645.8 356.0L646.2 356.5L655.8 356.5L658.2 357.5L667.2 357.5L667.8 358.0L668.8 358.0L670.2 360.0L672.8 362.0L675.8 362.0L676.2 362.5L677.2 362.5L677.8 362.0L680.2 362.0L680.8 361.5L681.8 361.5L683.2 359.5L683.2 357.5L682.2 356.5L678.8 355.5L676.8 353.5L676.8 350.5L674.8 347.0L674.8 342.0L674.2 341.0L670.8 339.0L669.8 339.0L664.8 337.0L663.2 337.0L662.8 336.5L658.2 336.5L657.8 336.0L649.8 336.5L649.2 337.0L647.8 337.0L647.2 337.5L640.2 339.5L637.2 341.0L632.2 345.5L631.8 345.5L629.2 348.0L629.2 349.0ZM741.8 335.0L739.8 336.0L738.2 338.0L735.8 339.5L728.2 339.5L727.8 340.0L726.8 340.0L725.2 342.0L725.8 343.0L727.8 344.0L741.2 344.0L741.8 343.5ZM92.8 283.5L92.8 286.0L93.2 286.5L93.2 287.5L95.2 289.0L97.8 289.0L98.2 289.5L100.2 289.5L100.8 289.0L116.2 289.0L116.8 289.5L121.8 289.5L122.2 289.0L142.8 289.5L143.2 289.0L145.2 289.0L145.8 289.5L150.2 289.5L150.8 289.0L152.2 289.0L153.8 288.0L153.8 286.0L150.8 284.5L138.2 285.0L134.8 283.5L132.8 281.5L130.8 280.5L95.8 280.5L93.8 281.5ZM219.2 250.5L216.8 252.0L216.2 254.5L217.2 255.5L219.8 256.0L222.8 254.5L222.8 252.5L221.2 251.0ZM209.8 246.0L209.8 247.0L210.8 248.0L214.8 248.0L215.8 247.0L215.8 246.5L213.8 245.0L211.8 245.0ZM741.8 239.5L740.8 240.0L727.2 240.0L726.8 240.5L710.8 240.5L710.2 241.0L709.2 240.5L700.8 240.5L700.2 241.0L698.2 241.0L697.8 241.5L694.2 242.0L693.8 242.5L686.2 242.5L685.8 243.0L681.8 243.0L678.2 244.5L677.2 246.0L677.2 254.5L676.8 255.0L676.8 258.5L678.8 261.0L682.8 262.5L684.2 262.5L684.8 262.0L688.8 262.0L689.2 261.5L741.8 261.5ZM168.2 247.0L167.2 245.0L162.8 243.0L160.2 240.0L158.2 239.0L147.8 239.0L147.2 239.5L141.2 239.5L140.8 239.0L137.2 239.0L136.8 239.5L82.8 239.5L82.8 261.5L83.8 261.5L84.2 262.0L110.8 262.0L111.2 261.5L129.8 261.5L130.2 262.0L137.2 262.0L139.8 261.0L140.8 259.0L142.2 257.5L143.2 257.0L145.2 257.0L145.8 256.5L147.8 256.5L148.2 257.0L155.2 257.0L155.8 257.5L164.8 257.5L165.2 257.0L166.8 257.0L167.8 256.0L167.8 255.0L168.2 254.5L168.2 252.0L167.8 251.5ZM615.2 350.5L615.2 347.5L613.8 345.0L613.8 344.0L612.2 340.5L610.2 338.5L607.8 337.0L604.2 336.5L603.8 336.0L600.8 336.0L600.2 335.5L597.8 335.0L596.8 334.0L593.8 332.5L590.8 332.0L590.2 331.5L586.2 330.5L584.8 329.5L580.8 328.5L577.8 326.5L575.2 325.5L572.8 325.5L572.2 325.0L569.2 325.0L568.8 324.5L567.8 324.5L563.8 321.5L562.8 321.5L562.2 321.0L559.8 321.0L559.2 321.5L557.2 321.5L556.8 322.0L549.8 322.0L547.2 321.0L542.8 320.5L536.2 318.0L534.2 318.0L533.8 317.5L531.8 317.5L531.2 317.0L528.8 317.0L528.2 316.5L525.8 316.5L525.2 317.0L507.8 317.0L507.2 317.5L506.2 317.5L504.2 319.5L503.2 322.0L503.2 324.5L505.2 329.5L505.2 332.5L503.8 334.5L499.2 336.5L496.8 338.5L493.2 340.0L488.2 339.5L487.8 339.0L481.8 339.0L479.8 340.0L478.2 341.5L478.2 343.0L480.2 344.0L489.2 344.0L491.2 346.0L490.2 348.0L487.8 349.5L486.8 349.5L482.8 352.5L481.8 352.5L481.2 353.0L479.2 353.0L478.8 353.5L476.8 353.5L476.2 353.0L468.2 353.5L467.8 353.0L465.2 352.5L463.2 350.5L462.2 348.5L457.2 343.5L457.2 342.5L456.8 342.0L456.8 340.5L456.2 340.0L456.2 337.5L456.8 337.0L456.8 325.5L457.2 325.0L457.2 323.0L457.8 322.5L457.8 321.5L457.2 321.0L457.2 316.0L456.8 315.5L456.8 313.5L455.8 311.5L455.2 308.5L454.8 307.5L453.2 306.5L452.2 306.5L451.8 306.0L440.8 306.5L435.2 304.5L432.2 304.5L431.8 304.0L430.8 304.0L430.2 304.5L416.2 304.5L415.8 304.0L414.8 304.0L414.2 304.5L411.2 304.5L410.8 305.0L408.2 305.5L406.8 306.5L404.8 306.5L404.2 307.0L382.2 307.0L381.8 307.5L379.8 307.5L379.2 307.0L377.8 307.0L372.2 304.0L369.8 304.0L369.2 303.5L366.2 303.5L365.8 304.0L351.8 304.0L351.2 303.5L349.2 303.5L348.8 303.0L346.2 302.5L343.8 301.0L342.2 299.5L341.8 298.0L344.8 295.0L347.2 294.0L349.2 294.0L349.8 293.5L395.2 293.5L395.8 294.0L396.8 294.0L397.2 293.5L402.2 293.5L402.8 293.0L404.8 293.0L405.8 292.5L406.8 291.0L405.8 289.5L405.8 288.5L407.2 287.0L412.8 284.5L415.2 282.0L416.2 280.0L416.2 279.0L417.2 277.5L417.2 271.5L416.8 271.0L416.8 269.5L417.2 269.0L417.2 263.0L417.8 262.5L417.8 261.5L419.8 259.5L422.8 258.0L423.8 258.0L428.2 255.5L429.2 255.5L431.2 254.5L434.2 254.5L434.8 254.0L440.8 254.5L445.8 257.5L448.2 260.0L449.2 262.5L449.2 264.5L450.2 266.5L455.2 272.5L456.2 274.5L456.2 275.5L458.2 278.5L461.2 279.5L461.8 279.0L463.2 279.0L467.2 277.5L472.2 277.5L472.8 278.0L476.8 278.5L478.8 279.5L480.2 281.0L480.2 282.0L482.2 284.0L489.2 288.5L490.8 290.0L491.2 291.0L491.2 295.0L491.8 295.5L491.8 296.5L493.8 298.0L496.2 298.0L496.8 298.5L499.2 298.5L499.8 298.0L539.2 298.0L539.8 298.5L549.8 298.5L550.2 298.0L551.2 298.0L552.8 296.0L555.2 294.0L556.2 294.0L556.8 293.5L569.8 294.0L577.8 289.0L578.2 286.5L574.8 283.0L574.8 281.5L576.8 279.5L580.8 277.5L581.8 276.0L581.8 272.5L582.2 272.0L582.2 269.0L582.8 268.5L582.8 263.0L581.8 261.0L577.8 258.0L575.2 257.0L574.2 256.0L571.2 254.5L566.8 254.5L565.8 255.0L565.8 255.5L563.2 258.0L560.8 258.0L558.8 257.0L556.2 254.0L556.2 250.0L558.8 246.5L559.2 243.0L558.2 241.0L557.2 240.5L555.2 237.5L555.2 235.5L558.2 232.5L558.8 232.5L559.8 231.0L560.8 226.0L562.8 220.5L562.8 219.0L564.2 216.5L564.2 215.0L563.8 214.5L560.2 215.0L559.8 215.5L554.2 217.0L552.8 218.0L551.8 218.0L549.2 219.5L548.2 219.5L545.8 221.0L544.8 221.0L542.2 222.5L541.2 222.5L537.2 224.5L533.2 225.0L532.8 225.5L530.2 225.5L529.8 226.0L527.8 226.0L527.2 226.5L516.2 226.5L515.8 226.0L511.2 225.5L510.8 225.0L500.8 225.0L495.8 223.0L492.2 220.5L483.2 216.0L473.8 216.0L473.2 215.5L470.8 215.5L465.8 213.5L462.2 213.0L460.2 212.0L457.8 209.5L456.8 207.0L454.2 203.5L453.8 201.0L451.2 198.5L446.2 196.5L432.2 196.5L431.8 196.0L429.2 196.0L428.8 195.5L424.8 194.5L421.2 190.5L417.8 188.5L415.8 186.5L415.8 185.0L415.2 184.5L415.2 180.5L414.8 180.0L415.2 178.0L417.2 176.0L421.2 174.0L422.8 174.0L424.8 173.0L424.8 172.0L422.8 169.0L421.2 167.5L419.2 166.5L413.2 166.5L412.8 167.0L411.2 167.0L407.2 170.0L404.8 171.0L399.2 170.5L397.2 171.5L394.2 174.0L388.8 176.0L389.2 178.0L392.2 179.5L394.2 181.5L394.2 183.0L389.8 187.0L388.8 189.0L388.8 192.0L390.2 195.0L390.8 203.5L389.2 206.5L388.2 207.5L386.8 211.0L380.8 216.5L376.2 218.5L371.2 219.0L370.8 219.5L344.8 219.5L344.2 219.0L342.2 219.0L339.2 217.5L338.2 216.5L334.8 215.0L326.8 214.5L326.2 214.0L324.8 214.0L322.8 213.0L321.2 213.0L320.8 212.5L317.2 212.0L316.8 211.5L300.2 211.5L299.8 211.0L284.2 211.5L282.2 208.5L281.2 208.5L280.8 208.0L276.2 208.0L272.8 205.0L268.2 204.5L267.8 204.0L263.8 203.5L263.2 203.0L261.2 203.0L260.8 202.5L252.8 202.5L252.2 203.0L250.8 203.0L245.8 206.0L237.2 207.5L232.8 209.5L226.8 216.0L224.8 217.0L219.2 222.5L219.2 224.0L221.2 227.0L221.2 228.0L221.8 228.5L221.8 231.0L222.2 231.5L222.2 239.0L221.2 241.0L221.2 245.5L221.8 246.0L222.2 248.5L225.2 251.5L229.2 254.0L230.8 254.0L231.2 254.5L235.2 254.5L235.8 255.0L239.2 255.0L240.8 256.0L240.8 257.5L239.8 258.5L238.2 259.0L237.2 260.5L239.2 262.0L240.2 262.0L244.2 264.0L247.2 266.5L252.8 269.5L256.8 273.0L257.8 273.0L259.8 274.0L264.2 274.5L264.8 275.0L266.2 275.0L268.8 276.0L276.2 276.5L276.8 277.0L278.2 277.0L278.8 277.5L279.8 277.5L281.8 278.5L283.8 278.5L284.2 279.0L286.8 279.0L287.2 279.5L292.2 279.5L295.8 278.0L297.2 275.5L298.8 274.5L303.2 274.0L307.2 271.0L310.8 270.5L311.2 271.0L313.8 271.0L321.2 274.0L331.2 274.0L331.8 274.5L335.2 274.5L335.8 275.0L355.2 275.0L355.8 275.5L360.8 276.0L361.2 276.5L371.8 276.5L377.8 279.5L379.8 280.0L381.2 281.5L381.2 283.5L379.2 285.0L370.2 285.0L369.8 285.5L367.8 285.5L367.2 286.0L362.2 286.0L361.8 286.5L359.2 286.5L358.8 286.0L353.8 286.0L353.2 285.5L351.2 285.5L350.8 285.0L335.2 285.0L334.8 285.5L329.8 286.0L326.8 287.5L324.2 289.5L320.8 291.0L318.2 293.0L314.2 295.0L310.8 298.0L308.8 299.0L307.2 299.0L306.8 299.5L301.8 299.5L301.2 299.0L299.8 299.0L299.2 298.5L296.8 298.0L294.8 296.5L289.8 294.0L281.8 294.0L281.2 294.5L277.8 295.0L276.8 296.0L269.8 299.5L268.8 300.5L260.2 304.0L257.8 304.0L257.2 303.5L246.2 303.5L245.2 303.0L241.8 299.0L239.8 298.0L233.2 298.0L232.8 298.5L183.8 298.5L183.2 299.0L180.2 299.0L179.8 298.5L170.8 298.5L168.8 300.0L168.8 303.0L167.2 304.0L159.8 304.0L158.8 303.5L158.2 304.0L156.2 304.0L154.2 305.0L150.2 309.0L148.2 312.5L140.8 320.0L140.8 321.5L141.8 323.5L143.8 325.5L147.2 327.5L148.8 329.5L148.8 331.0L147.8 333.0L144.8 335.0L142.8 335.0L142.2 335.5L137.8 335.5L137.2 335.0L121.8 335.0L121.2 335.5L82.8 335.0L82.8 343.5L140.8 343.5L141.2 344.0L151.8 344.0L152.8 343.5L155.2 340.5L156.8 339.5L158.2 339.5L158.8 339.0L162.2 339.0L162.8 339.5L170.2 339.5L170.8 339.0L184.8 339.0L187.2 340.0L190.8 343.5L191.8 343.5L192.2 344.0L208.8 344.0L209.2 344.5L211.2 344.5L211.8 344.0L214.2 344.0L214.8 343.5L216.8 343.5L217.2 343.0L219.2 343.0L219.8 342.5L222.2 342.0L223.8 340.0L223.8 339.0L223.2 338.5L223.8 336.5L226.2 334.5L230.2 332.5L232.2 330.5L234.8 329.5L240.2 329.5L240.8 330.0L252.8 330.0L253.2 329.5L257.2 329.5L258.2 329.0L262.2 330.5L269.8 335.5L269.8 337.0L268.2 338.5L267.2 340.5L267.2 342.0L267.8 343.0L270.8 344.5L278.8 345.5L281.2 347.0L282.2 347.0L284.2 348.0L294.2 349.0L294.8 348.5L297.2 348.0L298.8 346.5L298.8 342.0L300.2 340.0L301.2 339.5L304.2 339.5L307.2 342.0L310.8 344.0L313.2 346.5L314.8 347.5L316.8 348.0L318.8 350.0L318.8 351.0L316.8 353.0L313.2 353.5L309.8 356.5L307.2 357.5L305.8 357.5L304.8 358.0L304.2 359.0L304.2 363.5L304.8 364.0L304.8 365.0L306.2 366.5L307.2 367.0L309.2 367.0L309.8 367.5L314.2 367.0L314.8 366.5L318.8 365.5L320.2 364.5L321.2 364.5L323.2 363.5L324.8 363.5L325.2 363.0L326.8 363.0L327.2 362.5L328.8 362.5L329.2 362.0L348.8 362.0L349.2 362.5L384.2 362.5L384.8 362.0L386.2 362.0L387.8 360.5L387.8 356.0L388.2 355.0L389.8 353.5L390.8 353.0L392.8 353.0L393.2 352.5L396.2 352.5L396.8 353.0L403.8 352.5L404.2 353.0L406.2 353.0L407.2 353.5L409.8 356.0L409.8 356.5L412.8 358.0L420.2 358.0L420.8 357.5L423.2 357.5L423.8 358.0L436.2 358.0L436.8 357.5L446.2 357.5L446.8 358.0L452.2 358.0L452.8 357.5L460.8 357.5L461.2 358.0L482.8 358.0L483.2 357.5L487.2 357.5L490.8 359.0L492.8 360.5L494.2 360.5L494.8 361.0L504.2 361.0L504.8 361.5L506.8 361.5L508.8 362.5L514.8 362.5L515.2 362.0L519.2 361.5L519.8 361.0L543.2 361.0L543.8 360.5L544.8 360.5L545.8 360.0L546.2 359.0L546.2 356.0L545.8 355.5L546.2 349.5L547.2 348.5L549.8 348.0L550.2 347.5L571.2 347.5L571.8 348.0L577.8 348.0L578.2 348.5L579.2 348.5L579.8 348.0L595.2 348.0L595.8 348.5L597.8 348.5L598.2 348.0L603.8 348.0L606.2 349.0L608.2 351.0L608.2 351.5L610.2 353.0L612.8 353.0L613.8 352.5ZM346.8 347.0L349.2 345.5L351.2 345.5L351.8 345.0L356.2 345.0L356.8 345.5L357.8 345.5L359.2 347.0L359.2 348.0L357.2 349.5L349.2 349.5L348.8 349.0L347.8 349.0L346.8 348.0Z"/>
<path fill="#00b8dc" fill-rule="evenodd" d="M498.8 342.5L499.8 343.5L500.8 343.5L501.2 344.0L516.8 344.0L517.2 344.5L528.2 345.0L528.8 345.5L536.2 345.5L536.8 345.0L541.8 345.0L542.2 345.5L570.8 345.5L571.2 345.0L574.2 345.0L578.8 343.0L581.2 343.0L581.8 343.5L583.8 343.5L584.2 344.0L591.2 344.0L591.8 343.5L592.8 343.5L593.8 342.5L594.2 339.0L593.8 338.5L593.8 337.5L590.8 334.5L586.8 332.5L577.8 330.0L574.2 328.0L572.8 328.0L572.2 327.5L566.8 327.5L566.2 327.0L564.2 327.0L560.8 325.0L559.2 325.0L558.8 324.5L548.8 324.5L544.8 323.0L540.8 322.5L540.2 322.0L537.8 322.0L537.2 321.5L529.2 321.5L528.8 322.0L527.8 321.5L522.8 321.5L522.2 322.0L520.8 322.0L518.8 323.5L517.8 325.0L517.8 326.0L516.8 328.0L513.2 332.0L513.8 333.5L515.8 335.5L515.8 336.5L516.2 337.0L515.8 338.5L514.2 340.0L511.8 340.5L511.2 340.0L509.8 340.0L507.2 339.0L502.2 339.0L500.2 340.0L499.2 341.0ZM146.2 320.0L146.2 323.0L148.8 325.5L151.8 327.0L154.2 327.5L158.2 329.5L159.2 330.5L160.2 330.5L162.2 331.5L163.8 331.5L164.2 332.0L168.2 332.5L172.2 334.0L184.2 333.5L189.2 337.5L190.2 337.5L191.8 338.5L193.2 338.5L193.8 339.0L197.2 339.0L197.8 338.5L201.8 338.5L202.2 339.0L204.2 339.0L204.8 338.5L208.2 338.0L209.8 337.0L210.8 337.0L212.8 336.0L216.8 335.5L226.2 331.0L229.2 328.0L233.2 326.5L248.8 326.5L249.2 327.0L260.8 327.0L261.2 327.5L262.2 327.5L264.2 328.5L270.2 333.0L271.8 333.5L273.8 335.5L273.8 336.5L272.2 338.0L270.2 339.0L269.2 340.5L269.2 342.0L270.8 343.5L271.8 343.5L272.2 344.0L275.2 344.0L275.8 344.5L281.2 344.5L282.8 345.5L283.8 345.5L285.8 346.5L288.8 346.5L289.2 347.0L294.8 347.0L295.2 346.5L296.2 346.5L297.8 344.5L297.8 342.0L298.2 341.0L300.2 339.0L303.2 338.5L305.8 339.5L307.8 341.5L311.2 343.5L313.8 346.0L317.8 348.0L319.8 350.5L319.8 351.0L317.8 353.0L312.2 355.0L309.8 357.5L307.8 358.0L305.8 359.5L305.2 362.5L306.2 365.0L309.2 366.5L311.2 366.5L311.8 366.0L315.2 365.5L321.2 362.5L323.8 362.0L326.8 360.5L327.8 359.5L330.2 358.5L331.8 358.5L332.2 358.0L335.8 358.0L336.2 357.5L337.8 357.5L338.2 358.0L343.2 358.0L345.8 357.0L346.2 356.5L346.2 354.5L345.2 353.5L341.8 352.5L338.8 350.0L338.2 347.5L339.8 346.0L340.8 346.0L342.8 345.0L346.8 344.5L347.2 344.0L356.2 343.5L356.8 344.0L358.2 344.0L360.8 345.0L364.8 348.0L432.8 348.0L435.2 347.0L437.8 345.0L440.8 343.5L446.8 343.0L448.8 342.0L450.8 340.0L454.2 334.0L454.2 325.0L455.2 322.5L455.8 318.5L455.2 318.0L454.8 314.5L452.2 311.0L447.8 311.0L447.2 311.5L441.2 311.5L440.8 311.0L440.2 311.5L438.2 311.5L436.2 312.5L432.8 312.5L432.2 312.0L431.2 312.0L427.2 307.5L413.2 307.5L412.8 308.0L407.8 308.5L407.2 309.0L383.8 309.0L383.2 309.5L379.2 309.5L378.8 309.0L377.2 309.0L372.2 306.5L370.2 306.5L369.8 306.0L364.8 306.0L364.2 306.5L359.8 306.5L359.2 306.0L358.2 306.0L357.8 306.5L351.8 306.5L351.2 306.0L349.2 306.0L346.2 304.5L345.2 304.5L344.2 303.5L341.8 302.5L337.2 299.5L332.2 297.5L326.2 297.5L325.8 298.0L323.8 298.0L319.2 300.0L318.2 301.0L315.2 302.5L314.2 302.5L313.8 303.0L310.8 303.0L310.2 302.5L308.8 302.5L308.2 302.0L304.8 301.5L304.2 301.0L301.8 301.0L301.2 300.5L296.2 300.0L295.8 299.5L289.2 299.0L284.8 296.0L280.8 296.0L280.2 296.5L279.2 296.5L277.8 298.0L274.8 299.5L269.2 303.5L263.2 306.0L260.2 306.0L259.8 306.5L247.2 306.5L246.8 306.0L234.2 306.5L233.8 306.0L231.8 306.0L226.8 303.5L218.8 303.5L218.2 304.0L216.2 304.0L215.8 303.5L192.2 303.5L191.8 304.0L179.8 303.5L179.2 304.0L177.8 304.0L172.8 306.0L160.8 306.0L160.2 306.5L158.2 306.5L153.2 309.5ZM82.8 256.5L83.2 256.0L114.2 256.0L114.8 256.5L120.2 256.5L120.8 257.0L122.2 257.0L122.8 256.5L124.8 256.5L130.8 253.5L142.2 253.5L142.8 253.0L144.2 253.0L146.8 251.0L147.8 248.5L147.8 246.5L147.2 245.5L145.2 244.0L136.2 244.0L133.8 243.0L129.8 243.0L129.2 242.5L127.2 242.5L126.8 243.0L86.2 243.0L85.8 242.5L82.8 242.5ZM683.2 247.0L683.2 249.0L685.8 252.0L687.2 252.5L688.2 253.5L689.8 254.0L692.2 256.0L695.2 257.5L697.8 257.5L698.2 258.0L736.8 258.0L737.2 257.5L738.8 257.5L739.2 257.0L741.8 256.5L741.8 242.5L738.2 242.5L737.8 242.0L702.8 242.0L702.2 242.5L699.8 242.5L699.2 243.0L697.2 243.0L694.8 244.0L691.8 244.0L691.2 244.5L686.2 245.0ZM221.2 223.5L221.8 226.0L222.2 226.5L222.2 228.0L222.8 228.5L222.8 230.5L223.8 232.5L223.8 245.5L224.8 247.5L229.2 252.5L231.2 253.5L233.2 253.5L233.8 254.0L240.2 254.0L242.2 255.0L243.2 256.0L244.8 259.5L246.2 261.0L246.8 261.0L250.8 265.0L253.2 266.5L258.2 271.0L261.2 272.5L268.2 273.5L268.8 274.0L270.2 274.0L272.8 275.0L275.2 275.0L275.8 275.5L277.2 275.5L277.8 276.0L279.2 276.0L281.8 277.0L289.2 277.0L292.8 275.5L295.8 272.0L299.8 270.0L301.2 268.5L301.8 267.0L303.8 265.0L305.2 265.0L310.2 268.0L313.2 268.5L322.2 272.0L350.2 272.0L350.8 271.5L356.8 271.5L362.8 274.0L370.8 274.0L371.2 274.5L373.2 274.5L373.8 275.0L376.2 275.5L378.8 277.0L383.8 278.5L387.2 282.0L392.2 284.5L393.2 284.5L395.2 285.5L399.8 286.0L400.2 286.5L405.2 286.5L411.2 284.0L412.8 282.5L413.8 280.5L413.2 277.0L410.2 275.0L408.2 273.0L408.2 271.0L409.8 269.0L410.2 266.5L413.2 262.5L413.8 262.5L418.8 258.0L420.8 257.0L421.8 257.0L423.2 256.0L424.2 256.0L427.8 254.5L429.8 254.5L430.2 254.0L438.8 253.5L439.2 254.0L441.2 254.0L444.2 255.5L448.8 259.0L449.8 260.5L449.8 261.5L451.8 266.5L456.2 272.5L457.8 276.0L459.2 277.5L460.2 277.5L460.8 278.0L464.8 277.5L465.2 277.0L483.2 277.0L483.8 276.5L486.2 276.5L486.8 276.0L487.8 276.0L491.2 273.5L492.2 273.5L492.8 273.0L496.8 273.0L504.8 277.5L505.8 278.5L509.8 280.0L522.8 279.5L523.2 280.0L527.8 280.5L528.2 281.0L534.2 281.0L534.8 281.5L536.8 281.5L537.2 282.0L539.8 282.5L542.2 284.0L556.8 284.0L562.8 281.0L569.2 280.0L576.2 276.5L577.8 275.0L578.8 273.0L578.8 272.0L580.8 267.0L580.8 265.5L581.2 265.0L580.8 262.5L577.8 259.5L572.2 257.0L569.2 257.0L564.8 260.0L560.8 260.0L558.8 259.0L555.8 256.0L554.8 253.5L554.8 250.5L557.2 245.5L557.2 242.5L554.2 238.0L554.2 235.0L557.2 231.0L556.8 226.0L558.8 221.0L558.8 218.5L557.8 218.0L556.2 218.0L555.8 218.5L554.2 218.5L553.8 219.0L549.8 220.0L548.2 221.0L547.2 221.0L545.8 222.0L544.8 222.0L543.2 223.0L542.2 223.0L540.8 224.0L539.8 224.0L538.2 225.0L537.2 225.0L535.2 226.0L530.2 226.5L529.8 227.0L519.8 227.5L519.2 227.0L516.2 227.0L515.8 226.5L511.8 226.0L511.2 225.5L501.8 225.5L501.2 225.0L497.8 224.5L494.8 223.0L493.8 222.0L491.2 221.0L490.2 220.0L487.8 219.0L486.8 218.0L483.2 216.5L481.2 216.5L480.8 216.0L471.2 216.0L470.8 215.5L467.2 215.0L463.8 213.5L462.2 213.5L459.2 212.0L457.8 210.5L455.8 206.5L454.2 205.0L452.2 200.0L450.2 198.5L446.2 197.0L428.8 197.0L428.2 196.5L421.2 196.5L420.8 197.0L418.2 197.0L417.8 197.5L413.2 198.0L412.2 198.5L408.8 202.5L405.8 203.0L403.8 201.5L404.2 199.0L405.8 197.5L409.8 196.5L410.2 196.0L410.2 195.0L407.2 191.5L404.8 190.5L401.2 191.0L398.8 192.0L394.2 196.0L393.2 198.0L393.2 201.0L393.8 201.5L394.2 204.5L389.2 209.0L387.8 212.0L384.2 216.0L380.8 218.5L379.8 218.5L377.8 219.5L376.2 219.5L375.8 220.0L369.8 220.5L369.2 221.0L363.2 221.0L362.8 221.5L358.8 221.5L358.2 221.0L357.8 221.5L351.8 221.5L351.2 221.0L347.8 221.0L347.2 220.5L341.8 220.0L333.2 216.5L325.8 215.5L325.2 215.0L323.8 215.0L321.8 214.0L320.2 214.0L318.2 213.0L315.8 213.0L315.2 212.5L303.2 213.0L302.8 212.5L300.2 212.5L299.8 212.0L294.8 211.5L294.2 212.0L290.8 212.0L290.2 212.5L288.8 212.5L285.2 214.0L281.2 214.0L277.8 211.0L272.8 209.0L270.8 207.0L266.8 205.0L265.8 205.0L262.2 203.5L260.2 203.5L259.8 203.0L252.8 203.0L252.2 203.5L249.8 204.0L247.2 206.0L246.2 206.0L244.2 207.0L241.8 207.0L241.2 207.5L237.2 208.0L234.2 209.5L230.2 213.5L230.2 214.0L222.2 221.5ZM415.8 171.0L415.2 170.5L412.2 170.5L409.2 173.0L409.2 174.0L410.8 175.0L412.2 175.0L414.2 174.0L415.8 172.5Z"/>
<path fill="#00dcc0" fill-rule="evenodd" d="M516.8 332.0L516.8 333.5L518.2 337.0L518.2 340.5L520.2 342.0L521.2 342.0L523.2 343.0L525.2 343.0L525.8 343.5L569.8 344.0L570.2 343.5L573.2 343.0L575.2 341.5L578.8 340.0L585.2 339.5L586.8 338.5L586.8 337.0L585.8 335.5L583.2 334.0L578.2 332.5L574.2 330.0L573.2 330.0L571.2 329.0L563.2 329.0L562.8 328.5L561.8 328.5L559.8 327.0L556.8 326.5L556.2 326.0L546.8 326.0L546.2 325.5L544.2 325.5L543.8 325.0L527.2 325.0L526.8 324.5L524.2 324.5L523.8 325.0L521.2 325.5L519.2 327.5ZM453.2 317.5L450.8 315.5L448.2 316.0L446.8 317.0L433.8 317.0L423.2 311.5L411.8 311.5L411.2 311.0L391.2 311.0L390.8 310.5L380.8 311.0L380.2 310.5L377.2 310.5L373.2 308.5L369.8 308.0L369.2 307.5L366.8 307.5L366.2 308.0L350.8 308.0L350.2 307.5L346.2 306.5L340.8 303.5L339.8 302.5L337.8 302.0L336.2 301.0L335.2 301.0L331.8 299.5L326.8 299.5L326.2 300.0L323.2 300.5L314.2 305.0L309.2 305.0L303.8 302.5L300.2 302.0L299.8 301.5L296.8 301.5L296.2 301.0L290.8 301.5L288.8 302.5L285.8 305.0L283.2 306.0L279.2 309.0L275.8 310.5L271.2 314.0L268.8 314.5L268.2 315.0L264.8 315.0L263.8 314.0L266.2 309.5L265.2 308.0L264.2 308.0L263.8 307.5L260.8 307.5L260.2 308.0L257.8 308.0L257.2 308.5L255.2 308.5L254.8 309.0L252.8 309.0L252.2 308.5L250.2 308.5L249.8 308.0L245.8 308.0L245.2 307.5L244.2 307.5L243.8 308.0L232.8 308.0L232.2 307.5L229.2 307.5L226.8 306.5L200.2 306.5L199.8 306.0L190.8 306.0L190.2 306.5L179.2 306.0L178.8 306.5L172.2 307.0L171.8 307.5L161.8 307.5L157.8 309.0L153.2 313.0L149.8 319.5L149.2 322.0L151.2 324.5L153.2 325.5L155.8 326.0L158.8 327.5L159.8 328.5L164.2 330.5L168.2 331.0L168.8 331.5L171.2 331.5L171.8 332.0L180.2 332.0L180.8 331.5L183.8 331.5L184.2 332.0L186.8 332.5L190.2 335.5L193.2 336.0L193.8 336.5L197.2 336.5L197.8 336.0L202.2 336.0L202.8 336.5L204.2 336.5L204.8 336.0L207.8 336.0L208.2 335.5L209.8 335.5L210.2 335.0L215.2 334.0L222.8 330.0L227.2 325.0L228.2 325.0L228.8 324.5L241.2 324.5L241.8 324.0L246.2 324.0L246.8 324.5L249.2 324.5L249.8 325.0L251.8 325.0L252.2 325.5L261.2 325.5L261.8 326.0L263.2 326.0L266.2 327.5L267.8 329.0L274.2 333.0L275.8 334.5L276.2 336.5L274.2 338.5L271.8 339.5L270.8 341.0L271.2 342.5L272.2 343.0L273.2 343.0L273.8 343.5L278.2 343.5L280.8 342.5L282.8 342.5L285.8 344.5L286.8 344.5L288.8 345.5L294.8 345.5L296.2 344.5L297.2 341.0L298.8 339.0L300.8 338.0L303.8 338.0L306.2 339.0L308.8 341.5L311.8 343.0L315.8 346.5L318.2 347.5L320.2 349.5L320.2 351.5L318.2 353.5L314.2 354.5L310.2 358.0L307.8 359.0L306.8 360.0L306.2 362.5L307.2 364.5L309.2 365.5L311.8 365.5L312.2 365.0L313.8 365.0L318.2 362.5L319.2 362.5L324.2 360.0L327.2 357.5L329.2 356.5L330.2 356.5L332.8 355.0L334.2 352.0L334.2 348.5L335.2 346.5L336.8 345.0L338.8 344.0L341.8 343.5L342.2 343.0L344.2 343.0L344.8 342.5L356.2 342.0L356.8 342.5L360.2 343.0L364.2 345.0L408.8 345.0L409.2 344.5L432.2 344.5L434.2 343.5L435.8 342.0L434.2 340.0L432.8 340.0L432.2 339.5L422.2 339.5L421.8 340.0L416.8 340.0L416.2 340.5L414.8 340.5L414.2 340.0L412.8 340.0L410.8 338.0L410.8 337.0L412.2 335.5L421.2 335.5L425.2 334.0L438.8 334.0L439.2 333.5L440.2 333.5L444.8 330.5L449.8 329.5L450.8 328.5L451.2 324.0L453.2 320.5ZM82.8 244.0L82.8 254.5L113.2 254.5L113.8 254.0L123.2 254.0L129.2 251.5L137.8 251.5L138.2 251.0L139.8 251.0L140.8 250.0L140.8 249.0L140.2 248.5L134.8 247.0L130.8 245.0L119.8 245.0L119.2 245.5L89.2 245.5L88.8 245.0L86.2 245.0L85.8 244.5L83.2 244.5ZM688.8 248.0L688.8 249.5L689.8 251.0L692.2 253.0L698.2 255.5L701.8 255.5L702.2 256.0L723.8 256.0L724.2 255.5L726.8 255.5L727.2 256.0L734.2 256.0L734.8 255.5L737.2 255.5L739.8 254.5L741.8 254.5L741.8 244.0L739.2 244.0L738.8 243.5L702.8 243.5L702.2 244.0L699.8 244.0L697.2 245.0L695.2 245.0L694.8 245.5L691.2 246.0L689.2 247.0ZM397.8 198.5L396.8 199.5L396.8 201.0L398.8 202.0L399.8 201.0L399.8 199.0L399.2 198.5ZM579.2 266.0L579.2 263.5L578.8 262.5L576.8 260.5L574.8 259.5L570.2 259.0L564.2 261.5L560.8 261.5L557.8 260.0L555.2 257.5L553.8 254.0L553.8 250.0L555.8 245.5L555.8 242.5L553.2 237.5L553.2 234.0L554.2 232.0L554.2 224.5L554.8 224.0L554.8 222.0L553.8 221.0L551.2 221.0L550.8 221.5L547.2 222.0L545.8 223.0L543.2 223.5L539.2 225.5L538.2 225.5L534.8 227.0L530.2 227.5L529.8 228.0L518.8 228.0L518.2 227.5L515.8 227.5L513.8 226.5L509.2 226.0L508.8 225.5L499.2 225.5L493.8 223.0L492.8 222.0L489.2 220.5L488.2 219.5L483.8 217.0L482.2 217.0L481.8 216.5L471.8 216.5L471.2 216.0L467.2 215.5L466.8 215.0L463.8 214.5L459.8 213.0L456.8 210.0L455.8 207.5L452.8 204.0L451.8 200.5L450.2 199.0L446.2 197.5L437.2 197.5L436.8 198.0L424.2 197.5L423.8 198.0L419.8 198.5L414.2 200.5L410.2 204.0L407.2 205.5L406.2 205.5L400.2 209.0L399.2 209.0L398.8 209.5L397.8 209.5L395.8 208.5L392.8 208.5L391.8 209.0L390.2 210.5L388.2 214.0L382.2 219.5L379.2 220.0L378.8 220.5L376.8 220.5L376.2 221.0L367.8 222.0L367.2 222.5L355.8 222.5L355.2 223.0L352.2 223.0L351.8 222.5L349.2 222.5L348.8 222.0L341.8 221.0L341.2 220.5L339.8 220.5L331.8 217.5L330.2 217.5L327.8 216.5L325.8 216.5L325.2 216.0L323.8 216.0L323.2 215.5L321.8 215.5L319.8 214.5L315.8 214.0L315.2 213.5L303.2 214.0L302.8 213.5L300.8 213.5L300.2 213.0L298.2 213.0L297.8 212.5L292.8 212.5L292.2 213.0L288.8 213.5L285.8 215.0L283.2 215.0L282.2 215.5L281.8 215.0L279.2 214.5L276.2 212.0L271.8 210.0L270.2 208.5L265.2 205.5L264.2 205.5L262.8 204.5L261.8 204.5L259.8 203.5L252.2 203.5L246.2 207.0L238.8 208.0L234.8 210.0L232.2 212.5L230.8 215.0L225.8 219.5L223.2 223.5L223.2 228.5L225.2 233.5L225.8 246.0L228.2 250.0L230.2 252.0L232.2 253.0L241.8 253.5L243.8 254.5L253.2 264.5L253.8 264.5L257.2 268.0L261.8 271.0L262.8 271.0L264.8 272.0L268.8 272.5L269.2 273.0L271.2 273.0L271.8 273.5L273.2 273.5L275.8 274.5L277.8 274.5L278.2 275.0L280.2 275.0L280.8 275.5L283.2 275.5L283.8 276.0L286.8 276.0L287.2 275.5L289.2 275.5L291.2 274.5L295.2 270.5L298.2 269.0L302.8 263.5L306.2 263.5L311.2 266.0L312.2 266.0L315.8 267.5L317.2 267.5L318.8 268.5L319.8 268.5L321.8 269.5L323.2 269.5L323.8 270.0L328.2 270.0L328.8 269.5L357.8 269.5L364.2 272.0L372.2 272.0L372.8 272.5L375.8 273.0L381.2 276.0L384.2 276.5L387.8 278.5L389.2 280.0L393.8 282.0L396.8 284.0L397.8 284.0L399.8 285.0L401.8 285.0L402.2 285.5L405.2 285.5L405.8 285.0L407.2 285.0L410.8 283.0L411.8 281.0L411.2 279.0L410.2 278.0L407.2 276.5L406.2 276.5L403.8 274.0L403.8 270.5L405.8 267.5L408.8 264.5L408.8 264.0L416.2 258.0L421.2 255.5L422.2 255.5L424.2 254.5L425.8 254.5L426.2 254.0L428.8 254.0L429.2 253.5L434.2 253.5L434.8 253.0L438.8 253.0L439.2 253.5L441.2 253.5L444.8 255.0L447.8 257.0L450.8 260.5L451.2 263.0L452.8 266.0L456.2 271.0L458.2 275.0L461.2 277.0L463.2 277.0L463.8 276.5L468.2 276.5L468.8 276.0L478.2 276.0L478.8 275.5L482.8 275.5L483.2 275.0L486.2 274.5L491.2 272.0L495.8 271.5L496.2 272.0L499.2 272.0L506.8 275.0L508.8 275.0L509.2 275.5L518.2 275.5L518.8 276.0L522.8 276.5L527.8 278.5L531.8 279.0L532.2 279.5L539.2 280.0L539.8 280.5L541.8 280.5L542.2 281.0L556.8 281.0L563.2 278.5L564.8 278.5L565.2 278.0L569.2 277.0L574.2 274.5L576.8 271.5ZM292.8 259.5L293.2 259.0L294.2 259.0L294.8 259.5L294.2 260.0L293.2 260.0Z"/>
<path fill="#00dc64" fill-rule="evenodd" d="M519.2 331.5L519.2 335.5L520.8 339.5L523.2 341.0L526.2 341.5L526.8 342.0L553.2 342.0L553.8 342.5L556.8 342.5L557.2 342.0L563.2 342.0L563.8 342.5L569.2 342.5L572.8 341.0L575.2 339.0L579.2 337.0L579.2 336.0L577.8 334.5L572.2 331.0L571.2 331.0L570.8 330.5L562.8 330.5L556.2 327.5L543.2 327.5L542.8 327.0L529.8 327.5L529.2 327.0L522.8 327.0L521.2 328.0ZM444.2 325.5L444.2 323.5L443.2 323.0L442.2 323.0L441.8 322.5L436.8 322.5L436.2 322.0L434.8 322.0L432.8 321.0L428.8 317.0L424.8 315.0L423.8 315.0L421.8 314.0L420.2 314.0L419.8 313.5L397.8 313.5L397.2 313.0L391.2 312.5L390.8 312.0L379.2 312.0L378.8 311.5L376.2 311.5L375.8 311.0L373.2 310.5L371.8 309.5L369.8 309.5L369.2 309.0L366.2 309.0L365.8 309.5L350.8 309.5L350.2 309.0L347.8 308.5L341.8 305.5L338.2 303.0L337.2 303.0L333.8 301.5L331.8 301.5L331.2 301.0L327.8 301.0L327.2 301.5L325.8 301.5L325.2 302.0L322.8 302.5L319.8 304.0L318.8 305.0L317.8 305.0L314.8 306.5L308.8 306.5L308.2 306.0L306.8 306.0L300.8 303.0L299.2 303.0L298.8 302.5L293.8 302.5L291.2 303.5L281.8 310.0L276.2 312.5L273.8 314.5L270.2 316.0L265.2 316.5L264.8 317.0L260.8 317.0L259.8 316.0L259.8 313.5L262.2 311.0L262.2 310.0L261.8 309.5L259.2 309.5L255.8 311.0L252.8 311.0L248.8 309.5L245.8 309.5L245.2 309.0L243.2 309.0L242.8 309.5L229.8 309.5L229.2 309.0L226.2 309.0L225.8 308.5L223.8 308.5L223.2 308.0L184.8 308.0L184.2 307.5L180.2 307.5L179.8 308.0L174.8 308.0L174.2 308.5L163.2 308.5L158.8 310.5L156.8 312.0L154.2 315.0L152.2 319.5L152.2 322.0L153.2 323.5L159.2 326.0L163.2 329.0L166.2 329.5L166.8 330.0L168.8 330.0L169.2 330.5L173.2 330.5L173.8 331.0L177.2 331.0L177.8 330.5L184.8 330.5L185.2 331.0L186.8 331.0L190.2 333.5L194.2 335.0L196.8 335.0L197.2 334.5L207.8 334.5L208.2 334.0L210.2 334.0L210.8 333.5L214.8 332.5L220.8 328.5L221.8 326.5L221.8 324.5L223.2 323.0L224.2 322.5L226.2 322.5L226.8 322.0L233.8 322.0L234.2 322.5L246.8 322.0L247.2 322.5L249.2 322.5L253.2 324.0L261.8 324.0L262.2 324.5L263.8 324.5L268.8 327.0L270.2 328.5L275.2 331.5L278.2 334.5L278.2 337.0L277.8 338.0L272.8 340.5L272.8 342.0L273.8 342.5L277.2 342.5L277.8 342.0L278.8 342.0L280.8 340.5L283.8 340.5L286.8 343.0L288.8 344.0L289.8 344.0L290.2 344.5L293.8 344.5L295.8 343.0L296.8 341.0L296.8 340.0L299.2 337.5L303.2 337.0L306.8 338.5L308.8 340.5L313.8 343.5L316.2 346.0L318.8 347.0L321.2 350.0L320.8 352.5L318.8 354.0L314.8 355.0L307.8 360.5L307.8 363.0L309.2 364.5L312.2 364.5L313.8 363.5L314.8 363.5L317.8 361.5L318.8 361.5L320.8 360.5L325.2 356.5L328.2 355.0L329.8 353.5L330.8 351.5L331.2 349.0L332.8 346.5L335.2 344.0L337.8 342.5L338.2 341.0L335.8 338.5L335.8 337.5L337.2 336.0L344.8 336.0L345.2 336.5L347.8 336.5L348.2 336.0L356.8 336.0L357.2 336.5L358.2 336.5L359.8 338.5L359.8 340.5L360.2 341.0L365.8 343.0L369.8 343.0L370.2 342.5L401.2 342.5L401.8 343.0L404.2 343.0L404.8 342.5L406.8 342.5L407.8 342.0L408.2 341.0L407.2 339.5L406.8 337.5L409.2 334.5L411.2 333.5L413.8 333.5L414.2 333.0L415.2 333.5L418.8 333.5L419.2 333.0L421.2 333.0L424.8 331.5L436.2 330.0L440.2 328.5ZM82.8 253.0L88.8 253.0L89.2 253.5L98.8 253.5L99.2 253.0L100.8 253.0L101.2 253.5L109.2 253.5L109.8 253.0L116.2 253.0L116.8 252.5L120.8 252.5L121.2 252.0L122.8 252.0L125.8 250.5L127.2 249.0L126.2 248.0L124.8 248.0L124.2 247.5L119.8 247.5L119.2 247.0L90.2 247.0L89.8 246.5L86.2 246.5L85.8 246.0L83.8 246.0L82.8 245.5ZM692.8 248.5L692.8 250.0L693.8 251.5L697.2 253.5L698.8 253.5L699.2 254.0L737.2 254.0L737.8 253.5L741.2 253.5L741.8 253.0L741.8 245.5L740.8 245.5L740.2 245.0L737.2 245.0L736.8 244.5L705.2 244.5L704.8 245.0L702.2 245.0L699.8 246.0L697.8 246.0L697.2 246.5L694.8 247.0ZM577.2 266.0L577.2 263.5L576.8 262.5L574.2 261.0L570.8 260.5L565.2 262.5L559.8 262.5L557.2 261.5L554.8 259.0L552.8 254.0L552.8 250.0L554.2 246.5L554.8 243.5L552.2 237.0L552.2 234.0L551.2 231.5L551.8 224.0L550.8 223.0L548.2 223.0L547.8 223.5L544.8 224.0L543.2 225.0L539.2 226.0L536.2 227.5L534.8 227.5L532.2 228.5L530.2 228.5L529.8 229.0L526.8 229.0L526.2 228.5L518.2 228.5L517.8 228.0L515.8 228.0L515.2 227.5L510.2 226.5L509.8 226.0L500.2 226.0L499.8 225.5L497.8 225.5L495.2 224.5L491.8 222.0L488.2 220.5L485.8 218.5L482.2 217.0L472.8 217.0L472.2 216.5L469.2 216.5L468.8 216.0L465.2 215.5L458.8 213.0L457.2 211.5L454.8 207.0L451.8 204.0L451.2 201.0L449.2 199.0L446.8 198.0L424.8 198.5L424.2 199.0L422.2 199.0L420.2 200.0L418.8 200.0L415.2 201.5L409.8 206.0L401.8 210.0L397.2 213.0L395.8 213.0L393.8 212.0L391.8 212.5L387.2 217.5L387.2 218.0L384.2 220.5L380.8 221.0L380.2 221.5L377.8 221.5L377.2 222.0L374.8 222.0L374.2 222.5L371.8 222.5L371.2 223.0L369.2 223.0L368.8 223.5L366.8 223.5L366.2 224.0L349.8 224.0L346.2 222.5L337.8 221.0L331.2 218.5L329.8 218.5L327.8 217.5L326.2 217.5L325.8 217.0L324.2 217.0L323.8 216.5L322.2 216.5L321.8 216.0L320.2 216.0L317.8 215.0L315.8 215.0L315.2 214.5L303.2 215.0L302.8 214.5L300.8 214.5L298.2 213.5L291.8 213.5L285.2 216.0L280.2 216.0L277.2 214.5L275.8 213.0L271.2 211.0L266.8 207.5L260.8 204.5L255.2 203.5L254.8 204.0L251.2 204.5L246.8 207.5L240.8 208.0L236.8 209.5L234.8 211.0L231.2 216.0L228.2 218.5L226.8 221.5L224.2 224.5L224.2 229.0L226.2 232.5L226.2 237.0L226.8 237.5L226.8 239.5L227.2 240.0L227.2 245.5L230.2 251.0L233.2 252.5L240.2 252.5L240.8 253.0L244.2 253.5L245.8 254.5L256.2 265.0L256.2 265.5L256.8 265.5L260.8 269.0L264.8 271.0L268.8 271.5L269.2 272.0L271.2 272.0L271.8 272.5L275.8 273.0L276.2 273.5L278.2 273.5L278.8 274.0L280.8 274.0L281.2 274.5L288.2 274.5L290.2 273.5L293.8 270.0L296.8 268.5L299.2 266.0L300.2 263.5L301.2 262.5L307.2 262.5L307.8 263.0L309.2 263.0L314.8 265.0L321.2 265.5L325.2 267.0L328.8 267.0L329.2 267.5L342.8 267.5L343.2 268.0L351.2 268.0L351.8 267.5L355.8 267.5L356.2 268.0L361.2 268.5L363.2 269.5L371.2 269.5L371.8 270.0L373.2 270.0L373.8 270.5L376.2 271.0L381.8 274.5L387.8 276.0L391.8 279.0L392.8 279.0L394.8 280.0L399.2 283.5L400.2 283.5L402.2 284.5L405.8 284.5L408.2 283.5L409.8 282.0L409.8 280.5L407.2 278.5L402.2 277.5L400.2 275.5L400.2 271.0L400.8 270.5L400.8 269.5L409.8 261.0L415.8 257.0L419.8 255.0L420.8 255.0L422.8 254.0L424.8 254.0L425.2 253.5L428.2 253.5L428.8 253.0L435.2 253.0L435.8 252.5L443.2 253.5L448.8 257.0L450.8 259.0L456.8 271.0L458.8 274.0L461.2 276.0L467.8 276.0L468.2 275.5L478.2 275.0L478.8 274.5L483.8 274.0L485.2 273.0L486.2 273.0L488.8 271.5L490.2 271.5L490.8 271.0L500.8 270.5L501.2 271.0L511.2 271.0L511.8 271.5L514.2 271.5L514.8 272.0L516.2 272.0L516.8 272.5L528.2 276.0L531.2 277.5L535.8 278.0L536.2 278.5L550.8 278.5L551.2 279.0L554.8 279.0L555.2 278.5L559.8 278.0L571.8 273.5L573.8 272.0L575.2 270.0ZM287.2 259.5L290.2 257.5L292.2 257.5L292.8 257.0L296.2 257.5L297.8 259.0L297.8 260.0L296.8 261.0L295.8 261.0L295.2 261.5L290.8 261.5L290.2 261.0L288.8 261.0Z"/>
<path fill="#6edc00" fill-rule="evenodd" d="M573.8 336.5L573.2 334.5L571.2 332.5L570.2 332.5L569.8 332.0L562.8 332.0L555.8 329.0L550.2 329.0L549.8 329.5L532.8 329.5L532.2 330.0L523.8 329.5L521.2 332.5L521.2 336.0L522.8 338.5L525.2 339.0L525.8 339.5L530.8 340.0L531.2 340.5L552.8 340.5L553.2 340.0L556.2 340.0L556.8 339.5L569.2 340.0L571.8 338.5ZM154.8 318.5L154.8 321.5L156.8 323.5L159.8 324.5L165.2 328.5L166.2 328.5L166.8 329.0L169.2 329.0L169.8 329.5L185.8 329.5L186.2 330.0L187.8 330.0L192.2 333.0L193.8 333.0L194.2 333.5L197.2 333.5L197.8 333.0L207.8 333.0L208.2 332.5L211.8 332.0L215.8 330.0L218.2 327.5L218.2 322.0L219.8 320.5L221.2 320.5L221.8 320.0L248.2 320.0L248.8 320.5L250.8 320.5L253.2 321.5L255.2 321.5L256.8 320.5L256.2 315.5L254.8 313.5L253.8 313.5L253.2 313.0L251.2 313.0L250.8 312.5L249.2 312.5L246.8 311.5L233.2 311.5L232.8 312.0L227.2 312.0L223.2 310.0L221.8 310.0L221.2 309.5L164.8 309.5L161.2 311.0L159.2 312.5L156.2 315.5ZM262.2 320.5L262.8 322.0L268.8 324.5L273.2 328.0L278.2 331.0L280.2 333.0L280.2 334.0L280.8 334.5L280.8 337.0L282.8 338.5L285.8 339.0L288.2 341.5L288.2 342.0L289.8 343.0L291.2 343.0L291.8 343.5L294.2 343.0L295.2 342.0L296.2 338.5L298.2 336.5L303.2 336.0L307.2 337.5L309.8 340.0L314.8 343.0L317.2 345.5L319.2 346.5L321.8 349.0L321.8 350.0L322.2 350.5L321.8 353.0L319.2 354.5L317.8 354.5L315.2 355.5L312.2 358.5L310.2 359.5L308.8 361.0L308.8 362.5L310.2 363.5L313.2 363.0L315.2 361.5L320.2 359.5L324.2 355.0L326.2 354.0L328.2 352.0L329.8 347.5L334.8 341.5L333.2 338.5L333.2 337.0L334.2 335.5L336.2 334.5L358.2 334.5L360.8 335.5L363.8 339.0L366.2 340.0L368.2 340.0L368.8 339.5L400.8 339.5L402.2 338.5L402.8 336.5L405.2 334.0L409.2 332.0L414.2 331.5L414.8 331.0L418.8 331.0L420.8 330.0L428.2 328.5L429.8 327.0L429.8 324.5L427.8 319.5L426.8 318.5L423.2 317.0L421.2 317.0L420.8 316.5L410.8 316.5L410.2 316.0L407.2 316.0L406.8 315.5L397.2 315.5L393.2 314.0L384.8 314.0L384.2 313.5L381.2 313.5L380.8 313.0L375.2 312.5L374.8 312.0L373.2 312.0L370.8 311.0L350.2 311.0L341.8 307.0L337.8 304.0L336.8 304.0L334.8 303.0L331.8 303.0L331.2 302.5L326.2 303.0L318.2 307.0L315.2 307.5L314.8 308.0L309.2 308.0L308.8 307.5L306.8 307.5L299.8 304.0L295.2 303.5L291.8 305.0L290.2 306.5L286.2 308.5L281.8 312.0L278.8 313.0L275.2 315.5L273.2 316.5L265.2 318.0ZM399.8 281.0L401.2 283.0L402.2 283.0L402.8 283.5L405.8 283.5L407.8 282.0L407.8 281.0L405.8 279.5L401.8 279.5L401.2 280.0L400.2 280.0ZM82.8 247.0L82.8 252.0L113.2 252.0L113.8 251.5L117.2 251.0L118.8 250.0L117.2 249.0L116.2 249.0L115.8 248.5L113.2 248.5L112.8 248.0L87.2 248.0L86.8 247.5L84.2 247.5L83.8 247.0ZM696.2 249.0L696.2 250.5L697.2 251.5L699.2 252.5L701.2 252.5L701.8 253.0L706.2 253.0L706.8 252.5L739.2 252.5L739.8 252.0L741.8 252.0L741.8 247.0L740.8 246.5L738.8 246.5L738.2 246.0L734.8 246.0L734.2 245.5L708.2 245.5L707.8 246.0L704.8 246.0L704.2 246.5L700.2 247.0ZM575.2 266.0L575.2 264.0L574.2 263.0L571.8 262.5L571.2 262.0L570.8 262.5L568.2 262.5L567.8 263.0L566.2 263.0L563.8 264.0L558.8 264.0L556.2 263.0L554.2 261.0L552.8 258.0L552.2 254.5L551.8 254.0L551.8 250.5L552.2 250.0L552.2 248.0L553.2 245.5L553.2 242.5L552.2 240.5L551.2 235.0L549.2 232.5L548.2 230.0L548.8 229.5L548.8 226.0L548.2 225.5L544.2 225.5L542.2 226.5L539.2 227.0L537.8 228.0L536.8 228.0L534.8 229.0L530.8 229.5L530.2 230.0L524.2 229.5L523.8 229.0L517.2 229.0L516.8 228.5L515.2 228.5L510.2 226.5L501.2 226.5L500.8 226.0L497.8 226.0L494.2 224.5L493.2 223.5L487.2 220.5L482.8 217.5L480.8 217.5L480.2 217.0L469.8 217.0L469.2 216.5L467.2 216.5L466.8 216.0L463.2 215.5L458.8 213.5L456.2 211.0L455.2 208.5L451.2 204.5L450.8 203.5L450.8 201.5L449.8 200.0L446.8 198.5L428.2 199.0L427.8 199.5L424.8 199.5L424.2 200.0L422.2 200.0L420.2 201.0L418.8 201.0L414.2 203.5L409.8 207.5L401.8 211.5L398.2 215.5L396.2 216.5L391.8 216.5L390.2 218.0L389.2 220.5L387.2 222.0L385.2 222.0L384.8 222.5L379.8 222.5L379.2 223.0L375.8 223.0L375.2 223.5L373.2 223.5L372.8 224.0L371.2 224.0L369.2 225.0L366.8 225.0L366.2 225.5L350.2 225.5L344.2 223.0L342.2 223.0L341.8 222.5L339.8 222.5L339.2 222.0L335.8 221.5L335.2 221.0L332.2 220.5L325.8 218.0L324.2 218.0L320.2 216.5L315.8 216.0L315.2 215.5L303.2 216.0L302.8 215.5L300.8 215.5L300.2 215.0L298.8 215.0L296.2 214.0L293.8 214.0L293.2 214.5L291.8 214.5L286.8 216.5L281.2 217.0L280.8 216.5L277.8 216.0L273.8 213.0L269.2 211.0L260.2 205.0L254.8 204.0L250.8 205.5L249.2 207.0L247.2 208.0L240.8 208.5L237.2 210.0L234.8 212.5L232.2 216.5L229.8 219.0L228.2 222.0L225.2 225.5L225.2 226.5L224.8 227.0L225.2 229.0L227.8 233.0L227.8 237.0L228.8 239.5L228.8 244.5L229.2 245.0L229.2 247.0L230.2 248.5L230.2 249.5L231.8 251.0L233.8 252.0L242.2 252.0L242.8 252.5L245.8 253.0L249.8 256.0L259.2 266.5L265.2 270.0L268.2 270.5L268.8 271.0L270.8 271.0L271.2 271.5L273.8 271.5L274.2 272.0L282.8 273.0L283.2 273.5L287.2 273.5L289.2 272.5L293.2 269.0L296.2 267.5L298.2 265.5L298.2 264.5L298.8 264.0L297.8 262.5L287.8 262.5L287.2 262.0L285.8 262.0L285.2 261.5L281.8 261.0L281.2 260.5L273.2 260.5L272.2 259.0L273.8 258.0L277.2 258.0L277.8 257.5L285.8 257.5L286.2 257.0L288.2 257.0L288.8 256.5L294.2 256.0L294.8 256.5L296.8 256.5L297.8 257.0L299.8 259.0L300.2 260.5L301.2 261.0L309.2 261.5L309.8 262.0L311.8 262.0L312.2 262.5L321.8 262.5L322.2 263.0L324.2 263.0L325.8 264.0L328.8 264.5L329.2 265.0L337.2 265.0L337.8 265.5L343.2 266.0L343.8 266.5L351.8 266.5L352.2 266.0L355.2 266.0L355.8 266.5L360.2 266.5L360.8 267.0L363.2 267.0L363.8 267.5L372.2 267.5L372.8 268.0L375.8 268.5L378.8 270.0L380.2 271.5L383.8 273.5L386.2 273.5L386.8 274.0L387.2 273.5L389.2 273.5L392.8 271.5L393.8 271.5L395.8 270.5L403.8 263.5L414.2 256.5L420.8 253.5L422.8 253.5L423.2 253.0L427.2 253.0L427.8 252.5L441.8 252.5L442.2 253.0L444.8 253.5L445.8 254.5L447.2 255.0L449.2 256.5L452.2 260.0L457.2 270.5L460.2 274.5L462.8 275.5L467.8 275.5L468.2 275.0L472.2 275.0L472.8 274.5L475.2 274.5L475.8 274.0L478.8 274.0L479.2 273.5L483.2 273.0L488.8 270.5L498.8 269.5L499.2 269.0L502.2 268.5L506.2 266.5L508.8 266.5L513.2 269.0L518.8 270.5L520.2 271.5L521.2 271.5L526.2 273.5L527.8 273.5L529.2 274.5L530.2 274.5L531.8 275.5L532.8 275.5L534.8 276.5L557.8 276.5L571.2 271.5L573.8 269.0Z"/>
<path fill="#c8dc00" fill-rule="evenodd" d="M320.8 355.5L316.8 355.5L315.8 356.0L314.2 358.0L311.2 360.5L311.2 361.5L312.8 361.5L315.2 360.0L318.8 359.0L320.8 357.0ZM290.8 339.5L290.8 341.0L291.2 341.5L293.2 341.5L293.8 341.0L293.8 339.5L293.2 339.0ZM558.8 333.0L557.8 332.0L555.2 331.0L551.8 331.0L551.2 331.5L535.8 331.5L532.8 333.5L532.8 336.0L533.8 337.5L536.2 338.5L549.2 338.5L556.2 335.0L558.2 334.5L558.8 334.0ZM157.2 320.0L158.8 322.0L162.2 323.5L165.8 327.0L168.2 327.5L168.8 328.0L171.8 328.0L172.2 328.5L188.2 328.5L194.8 331.5L195.8 331.5L196.2 331.0L199.8 331.0L200.2 330.5L209.2 330.5L213.2 329.0L215.2 327.0L214.8 323.5L213.2 322.0L211.2 321.0L210.2 320.0L209.8 318.5L211.8 316.5L221.8 316.5L222.8 315.5L222.8 314.5L222.2 313.5L219.8 311.5L176.2 312.0L175.8 311.5L170.2 311.5L169.8 311.0L167.2 311.0L166.8 311.5L164.2 312.0L160.8 314.5L157.8 317.5ZM266.2 320.5L267.8 322.0L268.8 322.0L270.2 323.0L272.2 323.5L278.8 328.5L282.2 330.0L283.8 330.0L284.2 330.5L288.2 330.5L288.8 330.0L294.2 330.0L294.8 330.5L297.2 330.5L297.8 331.0L299.2 331.0L306.2 334.5L313.2 340.0L315.2 340.0L315.8 339.5L315.8 338.5L316.8 337.5L320.2 338.0L323.8 339.5L326.2 342.0L326.2 343.5L325.2 344.5L321.2 344.5L318.8 343.5L318.8 344.0L322.2 347.0L323.2 349.5L323.2 351.5L324.2 352.5L325.8 352.0L326.8 350.5L326.8 349.5L327.2 349.0L327.2 346.0L327.8 345.0L331.2 342.0L330.8 336.0L332.8 334.0L335.2 333.0L359.2 333.0L359.8 333.5L362.2 333.5L365.8 335.0L390.8 335.0L391.2 334.5L392.8 334.5L396.2 331.0L398.8 330.0L402.2 330.0L402.8 330.5L408.8 330.0L409.2 329.5L413.2 329.0L415.8 327.0L415.8 324.5L413.8 322.0L410.2 320.5L409.2 319.5L406.2 318.0L397.8 318.0L397.2 317.5L394.8 317.5L392.8 316.5L389.8 316.5L389.2 316.0L388.8 316.5L385.8 316.5L385.2 316.0L383.2 316.0L380.2 314.5L375.2 314.0L374.8 313.5L350.8 313.5L350.2 313.0L347.8 312.5L344.8 310.0L340.2 308.0L338.2 306.0L335.2 304.5L329.2 304.5L328.8 305.0L327.2 305.0L321.8 307.5L320.8 308.5L319.8 308.5L317.8 309.5L308.2 309.5L307.8 309.0L305.2 309.0L301.8 307.5L299.2 305.5L295.8 305.0L295.2 305.5L294.2 305.5L292.8 307.0L286.8 310.5L284.8 312.5L279.2 315.0L277.2 317.0L275.2 318.0L268.8 318.5L268.2 319.0L267.2 319.0ZM82.8 248.5L82.8 250.5L103.8 250.5L104.2 251.0L108.8 251.0L109.2 250.5L110.8 250.5L110.8 250.0L109.8 249.5L86.2 249.5L85.8 249.0L83.2 249.0ZM699.8 250.0L700.8 251.0L740.2 251.0L740.8 250.5L741.8 250.5L741.8 248.5L737.8 248.0L737.2 247.5L706.2 247.5L705.8 248.0L701.8 248.5ZM572.8 266.0L572.2 264.5L571.2 264.0L568.2 264.0L567.8 264.5L564.8 265.0L561.2 266.5L557.8 267.0L554.2 265.5L552.2 263.5L551.8 258.0L551.2 257.5L551.2 255.0L550.8 254.5L550.8 250.0L551.2 249.5L551.2 247.0L551.8 246.5L551.2 239.0L550.8 238.5L550.2 235.5L546.2 231.5L545.8 228.5L544.8 227.5L541.8 227.5L532.2 231.0L528.2 231.0L527.8 230.5L522.2 230.0L521.8 229.5L516.2 229.5L510.8 227.0L508.2 227.0L507.8 226.5L498.2 226.5L497.8 226.0L496.2 226.0L492.2 224.0L489.8 222.0L486.2 220.5L483.8 218.5L481.2 217.5L470.2 217.5L469.8 217.0L467.2 217.0L466.8 216.5L462.8 216.0L458.2 214.0L456.2 212.0L454.2 208.0L450.2 204.5L449.8 201.0L446.8 199.0L437.2 199.0L436.8 199.5L431.8 199.5L431.2 200.0L424.2 200.5L423.8 201.0L418.8 202.0L415.8 203.5L409.8 209.0L402.8 212.0L401.2 213.5L400.2 215.5L400.2 216.5L398.8 219.0L394.2 224.0L393.2 224.0L392.8 224.5L382.2 224.5L381.8 224.0L379.8 224.0L379.2 224.5L374.2 225.0L372.8 226.0L371.8 226.0L369.8 227.0L355.2 227.0L354.8 227.5L349.8 227.0L343.2 224.0L336.2 223.0L332.8 221.5L331.2 221.5L330.8 221.0L326.8 220.0L323.8 218.5L322.2 218.5L321.8 218.0L320.2 218.0L317.8 217.0L314.2 217.0L313.8 216.5L311.8 216.5L311.2 217.0L302.2 217.0L301.8 216.5L299.8 216.5L297.8 215.5L292.2 215.5L286.8 217.5L279.2 217.5L275.8 216.0L273.2 214.0L271.2 213.0L270.2 213.0L268.2 211.5L266.8 211.0L260.2 206.0L258.2 205.0L256.2 205.0L255.2 204.5L254.8 205.0L252.2 205.5L248.2 208.5L240.8 209.0L237.8 210.5L234.8 215.0L234.2 216.5L230.8 221.0L230.2 222.5L226.2 226.0L226.2 227.0L225.8 227.5L226.2 228.0L226.2 229.0L229.8 233.5L229.8 238.0L230.8 240.5L230.8 247.0L231.2 247.5L231.2 249.0L232.2 250.5L234.8 251.5L245.2 251.5L249.2 253.0L256.8 260.0L258.2 263.5L261.2 266.5L264.2 268.0L265.2 269.0L266.2 269.0L268.2 270.0L270.8 270.0L271.2 270.5L280.8 271.0L281.2 271.5L283.2 271.5L283.8 272.0L286.8 272.0L288.8 271.0L291.8 268.5L295.2 267.0L296.8 265.5L296.8 264.0L295.2 263.0L292.8 263.0L292.2 263.5L285.8 263.5L283.2 262.5L272.2 262.5L271.8 262.0L269.8 262.0L266.2 260.5L265.2 259.5L265.2 258.0L266.8 257.0L269.8 256.5L270.2 256.0L275.8 256.0L276.2 255.5L290.2 255.5L290.8 255.0L294.8 255.0L295.2 255.5L297.2 255.5L299.2 256.5L300.8 258.5L302.8 260.0L323.2 260.5L329.8 263.0L337.8 263.0L341.8 264.5L344.8 264.5L345.2 265.0L348.8 265.0L349.2 264.5L358.2 264.5L358.8 265.0L369.8 265.0L370.2 265.5L374.2 265.5L374.8 266.0L376.2 266.0L376.8 266.5L379.2 267.0L384.2 271.0L386.8 271.0L389.8 269.0L398.8 264.5L402.2 261.5L405.8 260.0L406.8 259.0L413.2 256.0L414.2 255.0L418.2 253.0L419.2 253.0L419.8 252.5L424.2 252.5L424.8 252.0L441.8 252.0L442.2 252.5L443.8 252.5L447.8 254.5L452.2 258.5L456.2 265.5L457.2 269.0L458.2 270.0L458.8 271.5L461.8 274.5L463.2 274.5L463.8 275.0L467.2 275.0L467.8 274.5L471.2 274.5L471.8 274.0L473.8 274.0L476.2 273.0L481.2 272.5L481.8 272.0L484.2 271.5L486.8 270.0L489.8 269.5L490.2 269.0L494.8 269.0L495.2 268.5L497.2 268.5L501.8 266.0L504.8 263.0L507.2 262.0L510.2 262.0L511.2 261.5L511.8 259.5L513.8 257.5L517.8 256.0L518.2 255.0L518.2 254.0L516.8 251.5L516.2 251.5L514.2 249.5L514.2 247.5L515.8 246.5L519.2 246.5L525.8 250.0L527.2 252.0L527.2 254.0L524.8 256.5L521.2 258.0L518.8 260.5L513.2 263.0L513.2 265.0L515.2 267.0L517.2 268.0L519.8 268.5L521.2 269.5L522.2 269.5L523.8 270.5L524.8 270.5L528.2 272.0L529.8 272.0L536.2 274.5L542.8 274.5L543.2 274.0L556.2 274.5L560.8 272.5L561.8 271.5L565.2 271.0L565.8 270.5L567.8 270.5L570.2 269.5L571.8 268.0Z"/>
<path fill="#e0b400" fill-rule="evenodd" d="M347.2 329.5L348.2 330.5L349.2 330.5L349.8 331.0L360.2 331.0L360.8 330.5L363.8 330.5L364.2 330.0L365.2 330.0L366.2 329.5L368.8 326.5L373.2 324.5L374.2 323.5L374.2 318.5L373.2 317.0L371.8 317.0L371.2 316.5L350.8 316.5L350.2 317.0L349.2 317.0L347.2 319.0ZM175.8 318.0L176.2 320.0L178.8 321.0L193.2 321.0L195.2 319.5L195.2 318.5L193.8 317.0L192.8 317.0L192.2 316.5L178.2 316.5ZM260.8 262.5L260.8 264.0L262.2 265.5L265.2 267.5L268.8 269.0L280.2 269.0L280.8 268.5L281.2 269.0L287.2 269.0L288.2 268.0L290.2 267.0L294.2 266.0L295.2 265.0L294.8 264.5L291.8 264.5L288.8 266.0L287.2 266.0L284.2 264.5L281.2 264.0L280.8 263.5L269.8 264.0L269.2 263.5L267.2 263.5L263.8 262.0L261.2 262.0ZM552.2 270.5L552.2 269.0L546.8 264.5L546.8 263.0L549.8 259.5L549.8 237.5L547.8 235.0L545.2 234.0L543.8 232.5L542.8 230.0L539.8 230.0L532.8 233.0L530.2 233.0L523.8 230.5L515.2 230.0L511.8 228.0L510.8 228.0L508.8 227.0L498.2 227.0L497.8 226.5L495.8 226.5L492.8 225.0L490.2 223.0L486.8 221.5L482.8 218.5L481.8 218.5L481.2 218.0L470.2 218.0L469.8 217.5L466.8 217.5L466.2 217.0L462.2 216.5L458.2 215.0L455.8 212.5L454.2 209.0L449.8 205.5L449.2 204.5L449.2 202.0L447.8 200.0L446.8 199.5L444.8 199.5L444.2 199.0L442.2 199.0L441.8 199.5L437.2 199.5L436.8 200.0L430.2 200.5L429.8 201.0L427.2 201.0L426.8 201.5L424.2 201.5L423.8 202.0L419.8 202.5L416.8 204.0L414.8 206.0L414.8 206.5L411.2 209.5L403.8 212.5L402.2 214.0L402.2 215.0L401.8 215.5L401.8 217.0L402.2 217.5L402.2 224.0L404.2 227.5L404.2 228.0L402.8 229.0L400.2 229.0L394.8 227.0L389.2 227.0L388.8 226.5L377.8 226.5L371.2 230.0L365.2 230.0L364.8 229.5L355.8 229.5L355.2 230.0L352.2 230.0L351.8 229.5L349.2 229.5L341.2 225.5L336.8 225.0L330.2 222.5L328.8 222.5L328.2 222.0L324.2 221.0L322.8 220.0L321.8 220.0L318.2 218.5L315.8 218.5L315.2 218.0L303.8 218.5L303.2 218.0L298.8 218.0L298.2 217.5L294.2 217.0L293.8 217.5L288.8 218.0L288.2 218.5L277.8 218.5L277.2 218.0L275.8 218.0L270.8 214.5L269.8 214.5L265.8 212.5L262.2 210.0L258.2 206.0L257.2 206.0L256.8 205.5L253.8 205.5L249.2 209.5L241.2 209.5L239.2 210.5L238.2 212.0L238.2 214.0L238.8 214.5L238.2 215.0L238.2 216.0L233.8 221.0L232.8 223.0L231.2 224.5L228.8 225.5L227.2 227.0L227.2 228.5L228.8 230.0L230.2 230.5L232.2 232.5L232.2 238.0L232.8 238.5L232.8 242.0L233.2 242.5L232.8 249.0L233.2 250.0L234.2 250.5L246.8 250.0L248.8 249.0L249.8 248.0L250.2 246.5L252.8 244.0L253.8 243.5L255.8 243.5L256.2 243.0L258.8 243.0L259.2 243.5L264.2 244.0L269.8 246.5L271.2 246.5L271.8 247.0L275.2 247.5L277.2 248.5L278.8 248.5L280.8 249.5L283.2 252.5L284.2 252.5L284.8 253.0L286.2 253.0L286.8 253.5L294.8 253.5L295.2 254.0L297.8 254.0L298.2 254.5L299.2 254.5L303.8 258.5L307.2 258.5L309.2 257.5L322.8 257.5L327.8 260.0L330.8 260.5L331.2 261.0L337.2 260.5L337.8 261.0L340.2 261.0L344.2 262.5L351.2 262.5L351.8 262.0L361.8 262.5L362.2 262.0L364.8 262.0L365.8 261.5L368.8 258.0L370.8 257.0L381.8 257.0L382.2 257.5L385.2 257.5L385.8 257.0L388.8 257.0L389.2 256.5L391.8 256.5L392.2 256.0L394.8 256.0L395.2 255.5L397.8 255.5L398.2 255.0L401.2 255.0L401.8 254.5L409.8 255.0L412.2 254.0L415.8 251.5L417.8 251.5L418.2 251.0L420.2 251.0L420.8 251.5L442.2 251.5L442.8 252.0L445.8 252.5L449.2 254.5L453.8 259.0L455.8 262.0L457.2 265.0L457.8 268.0L459.8 271.5L461.8 273.5L462.8 274.0L464.8 274.0L465.2 274.5L470.2 274.0L470.8 273.5L472.2 273.5L472.8 273.0L474.2 273.0L476.8 272.0L479.2 272.0L479.8 271.5L482.8 271.0L487.2 268.5L488.8 268.5L489.2 268.0L492.8 268.0L493.2 267.5L496.2 267.0L498.8 264.0L498.8 258.5L499.2 258.0L499.2 257.0L500.8 254.0L504.2 250.5L505.8 250.0L510.2 246.0L514.8 243.5L515.8 243.5L517.8 242.5L519.8 242.5L520.2 242.0L523.8 242.0L524.8 243.0L525.2 245.0L527.2 247.0L531.8 250.0L532.2 251.0L532.2 254.5L530.2 257.0L520.2 263.0L519.2 264.0L519.2 265.0L520.2 266.0L522.2 266.5L527.8 269.5L529.2 269.5L531.8 270.5L534.2 270.5L534.8 271.0L543.8 271.0L544.2 271.5L550.2 271.5Z"/>
<path fill="#e06e00" fill-rule="evenodd" d="M234.8 248.0L234.8 249.0L235.8 249.5L238.2 249.5L239.2 249.0L239.2 248.0L238.2 247.5L235.8 247.5ZM241.2 211.0L241.2 212.0L241.8 212.5L244.8 212.5L245.8 212.0L245.8 211.0L244.8 210.5L242.2 210.5ZM403.8 214.0L403.8 217.0L406.2 220.0L407.2 222.0L409.8 224.5L414.2 227.0L416.2 230.0L416.2 231.0L416.8 231.5L416.8 234.0L414.2 239.0L414.2 242.5L414.8 243.0L414.8 244.0L417.2 247.0L417.8 247.0L419.8 249.0L423.8 250.5L426.8 250.5L427.2 251.0L443.2 251.0L448.8 253.0L450.2 254.0L456.8 261.0L457.8 262.5L458.8 267.5L459.8 270.0L463.8 273.5L469.2 273.5L475.8 271.0L480.8 270.5L484.2 269.0L486.2 267.5L493.2 265.5L494.2 264.5L495.8 259.5L497.8 256.0L497.8 255.0L498.8 253.5L499.2 251.5L502.8 248.0L505.8 246.0L508.2 245.0L509.2 244.0L517.8 240.0L521.2 237.5L524.8 236.0L526.2 234.5L526.2 233.0L523.8 231.5L522.2 231.5L521.8 231.0L515.8 231.0L508.8 227.5L497.8 227.5L497.2 227.0L493.8 226.5L491.8 225.5L489.8 223.5L486.2 222.0L483.2 219.5L481.2 218.5L478.8 218.5L478.2 218.0L477.2 218.0L476.8 218.5L470.2 218.5L469.8 218.0L465.8 218.0L465.2 217.5L462.8 217.5L462.2 217.0L459.2 216.5L457.2 215.5L455.2 213.5L453.8 209.5L452.2 208.0L450.8 207.5L448.8 206.0L448.2 205.0L448.2 201.5L446.8 200.0L445.2 200.0L444.8 199.5L438.2 200.0L437.8 200.5L435.8 200.5L435.2 201.0L433.2 201.0L432.8 201.5L430.8 201.5L430.2 202.0L428.2 202.0L427.8 202.5L425.2 202.5L424.8 203.0L421.2 203.0L420.8 203.5L419.8 203.5L417.8 204.5L413.2 210.0L408.2 212.0L406.8 212.0Z"/>
<path fill="#e02d00" fill-rule="evenodd" d="M405.2 214.5L405.2 215.5L406.2 217.0L409.2 218.5L413.8 223.0L416.8 224.5L421.2 229.5L422.2 232.0L422.2 235.5L421.8 236.5L418.2 239.5L417.8 241.5L419.8 244.0L422.8 246.0L423.2 247.5L424.8 249.0L427.2 249.5L427.8 250.0L439.8 250.0L440.2 250.5L446.2 250.5L450.2 252.0L458.8 260.0L459.8 262.0L459.8 264.0L460.2 264.5L460.2 268.0L461.2 270.0L463.8 272.5L464.8 272.5L465.2 273.0L467.8 273.0L468.2 272.5L469.2 272.5L472.8 270.0L474.2 270.0L474.8 269.5L479.2 269.5L479.8 269.0L480.8 269.0L482.8 268.0L484.2 266.5L489.2 264.5L490.8 263.0L491.8 260.0L494.8 256.5L495.8 254.5L496.2 250.5L497.2 248.5L500.2 245.5L502.8 244.0L503.8 244.0L510.2 241.5L516.8 237.0L518.8 236.5L522.8 234.5L523.2 233.5L522.2 232.5L521.2 232.5L520.8 232.0L513.8 232.0L509.8 228.5L508.8 228.5L508.2 228.0L495.2 228.0L494.8 227.5L492.8 227.5L489.2 224.5L484.2 222.0L480.8 219.0L478.8 219.0L478.2 218.5L477.2 218.5L476.8 219.0L467.2 219.0L466.8 218.5L461.2 218.5L460.8 218.0L457.2 217.5L454.2 215.5L453.8 214.5L453.8 211.0L453.2 210.0L451.8 208.5L447.8 207.5L446.8 206.5L447.2 201.5L445.8 200.5L444.2 200.5L443.8 200.0L437.8 201.0L429.8 204.0L427.2 204.0L426.8 204.5L425.8 204.5L425.2 204.0L422.2 204.0L421.8 204.5L420.2 204.5L418.2 206.0L417.2 208.0L417.2 209.5L414.8 212.0L413.8 212.5L411.8 212.5L411.2 213.0L407.8 213.0L407.2 213.5L406.2 213.5Z"/>
<path fill="#e00000" fill-rule="evenodd" d="M431.8 248.5L432.8 249.0L440.2 249.0L441.2 248.5L440.8 248.0L432.2 248.0ZM508.8 230.5L508.8 229.5L506.8 228.5L503.8 228.5L503.2 229.0L498.2 229.5L498.2 230.0L499.2 230.5L501.2 230.5L501.8 231.0L507.8 231.0ZM480.8 221.5L480.8 220.5L479.8 219.5L474.8 219.5L474.2 220.0L468.2 220.5L470.8 221.5L476.2 221.5L476.8 222.0L477.8 222.0L478.2 221.5ZM449.2 209.5L448.8 210.0L448.8 212.0L449.2 212.5L451.8 212.5L452.2 212.0L451.8 210.0ZM439.8 202.0L439.8 203.0L441.8 204.0L444.8 204.0L445.8 203.0L445.8 202.0L444.8 201.0L441.8 201.0Z"/>
<path fill="#9f9f9f" shape-rendering="crispEdges" d="M243.94 133.86H292.03V139.02H243.94ZM319.51 133.86H367.60V139.02H319.51ZM498.12 133.86H525.60V139.02H498.12ZM223.33 138.42H381.34V143.58H223.33ZM436.29 138.42H463.77V143.58H436.29ZM498.12 138.42H504.99V143.58H498.12ZM573.69 138.42H601.17V143.58H573.69ZM195.85 142.98H209.59V148.14H195.85ZM237.07 142.98H374.47V148.14H237.07ZM443.16 142.98H450.03V148.14H443.16ZM580.56 142.98H621.78V148.14H580.56ZM188.98 147.54H209.59V152.71H188.98ZM237.07 147.54H285.16V152.71H237.07ZM305.77 147.54H374.47V152.71H305.77ZM518.73 147.54H525.60V152.71H518.73ZM573.69 147.54H628.65V152.71H573.69ZM182.11 152.11H209.59V157.27H182.11ZM237.07 152.11H285.16V157.27H237.07ZM305.77 152.11H374.47V157.27H305.77ZM546.21 152.11H649.26V157.27H546.21ZM120.28 156.67H140.89V161.83H120.28ZM182.11 156.67H223.33V161.83H182.11ZM230.20 156.67H292.03V161.83H230.20ZM312.64 156.67H367.60V161.83H312.64ZM450.03 156.67H470.64V161.83H450.03ZM532.47 156.67H704.22V161.83H532.47ZM82.50 161.23H99.67V166.39H82.50ZM113.41 161.23H264.55V166.39H113.41ZM278.29 161.23H298.90V166.39H278.29ZM312.64 161.23H353.86V166.39H312.64ZM436.29 161.23H484.38V166.39H436.29ZM504.99 161.23H742.00V166.39H504.99ZM113.41 165.79H257.68V170.96H113.41ZM278.29 165.79H292.03V170.96H278.29ZM312.64 165.79H340.12V170.96H312.64ZM374.47 165.79H388.21V170.96H374.47ZM429.42 165.79H738.57V170.96H429.42ZM113.41 170.36H243.94V175.52H113.41ZM285.16 170.36H292.03V175.52H285.16ZM319.51 170.36H333.25V175.52H319.51ZM422.55 170.36H738.57V175.52H422.55ZM113.41 174.92H243.94V180.08H113.41ZM271.42 174.92H285.16V180.08H271.42ZM422.55 174.92H717.96V180.08H422.55ZM161.50 179.48H243.94V184.64H161.50ZM271.42 179.48H298.90V184.64H271.42ZM401.95 179.48H408.82V184.64H401.95ZM436.29 179.48H676.74V184.64H436.29ZM704.22 179.48H711.09V184.64H704.22ZM168.37 184.04H257.68V189.21H168.37ZM271.42 184.04H312.64V189.21H271.42ZM395.08 184.04H408.82V189.21H395.08ZM436.29 184.04H669.87V189.21H436.29ZM697.35 184.04H704.22V189.21H697.35ZM175.24 188.61H312.64V193.77H175.24ZM395.08 188.61H415.68V193.77H395.08ZM422.55 188.61H669.87V193.77H422.55ZM697.35 188.61H704.22V193.77H697.35ZM182.11 193.17H312.64V198.33H182.11ZM408.82 193.17H669.87V198.33H408.82ZM182.11 197.73H292.03V202.89H182.11ZM408.82 197.73H669.87V202.89H408.82ZM182.11 202.29H292.03V207.46H182.11ZM408.82 202.29H463.77V207.46H408.82ZM484.38 202.29H498.12V207.46H484.38ZM504.99 202.29H663.00V207.46H504.99ZM669.87 202.29H676.74V207.46H669.87ZM182.11 206.86H285.16V212.02H182.11ZM395.08 206.86H415.68V212.02H395.08ZM429.42 206.86H436.29V212.02H429.42ZM443.16 206.86H463.77V212.02H443.16ZM484.38 206.86H498.12V212.02H484.38ZM504.99 206.86H649.26V212.02H504.99ZM669.87 206.86H676.74V212.02H669.87ZM182.11 211.42H278.29V216.58H182.11ZM395.08 211.42H408.82V216.58H395.08ZM429.42 211.42H436.29V216.58H429.42ZM450.03 211.42H504.99V216.58H450.03ZM511.86 211.42H649.26V216.58H511.86ZM669.87 211.42H676.74V216.58H669.87ZM188.98 215.98H271.42V221.14H188.98ZM395.08 215.98H408.82V221.14H395.08ZM463.77 215.98H504.99V221.14H463.77ZM511.86 215.98H635.52V221.14H511.86ZM642.39 215.98H649.26V221.14H642.39ZM663.00 215.98H669.87V221.14H663.00ZM188.98 220.54H271.42V225.71H188.98ZM408.82 220.54H429.42V225.71H408.82ZM477.51 220.54H635.52V225.71H477.51ZM656.13 220.54H669.87V225.71H656.13ZM195.85 225.11H264.55V230.27H195.85ZM395.08 225.11H436.29V230.27H395.08ZM477.51 225.11H635.52V230.27H477.51ZM649.26 225.11H656.13V230.27H649.26ZM202.72 229.67H264.55V234.83H202.72ZM395.08 229.67H498.12V234.83H395.08ZM504.99 229.67H635.52V234.83H504.99ZM209.59 234.23H237.07V239.39H209.59ZM257.68 234.23H264.55V239.39H257.68ZM388.21 234.23H498.12V239.39H388.21ZM511.86 234.23H635.52V239.39H511.86ZM216.46 238.79H237.07V243.96H216.46ZM388.21 238.79H628.65V243.96H388.21ZM216.46 243.36H237.07V248.52H216.46ZM264.55 243.36H278.29V248.52H264.55ZM381.34 243.36H477.51V248.52H381.34ZM484.38 243.36H518.73V248.52H484.38ZM539.34 243.36H566.82V248.52H539.34ZM580.56 243.36H614.91V248.52H580.56ZM216.46 247.92H250.81V253.08H216.46ZM271.42 247.92H285.16V253.08H271.42ZM381.34 247.92H477.51V253.08H381.34ZM484.38 247.92H518.73V253.08H484.38ZM546.21 247.92H566.82V253.08H546.21ZM587.43 247.92H608.04V253.08H587.43ZM223.33 252.48H250.81V257.64H223.33ZM381.34 252.48H484.38V257.64H381.34ZM491.25 252.48H511.86V257.64H491.25ZM546.21 252.48H559.95V257.64H546.21ZM587.43 252.48H608.04V257.64H587.43ZM243.94 257.04H257.68V262.21H243.94ZM381.34 257.04H484.38V262.21H381.34ZM491.25 257.04H504.99V262.21H491.25ZM546.21 257.04H559.95V262.21H546.21ZM594.30 257.04H614.91V262.21H594.30ZM628.65 257.04H635.52V262.21H628.65ZM250.81 261.61H257.68V266.77H250.81ZM381.34 261.61H498.12V266.77H381.34ZM553.08 261.61H559.95V266.77H553.08ZM594.30 261.61H614.91V266.77H594.30ZM635.52 261.61H642.39V266.77H635.52ZM257.68 266.17H264.55V271.33H257.68ZM271.42 266.17H298.90V271.33H271.42ZM388.21 266.17H504.99V271.33H388.21ZM553.08 266.17H559.95V271.33H553.08ZM594.30 266.17H608.04V271.33H594.30ZM635.52 266.17H642.39V271.33H635.52ZM264.55 270.73H305.77V275.89H264.55ZM388.21 270.73H504.99V275.89H388.21ZM594.30 270.73H601.17V275.89H594.30ZM635.52 270.73H642.39V275.89H635.52ZM271.42 275.29H312.64V280.46H271.42ZM395.08 275.29H408.82V280.46H395.08ZM429.42 275.29H498.12V280.46H429.42ZM594.30 275.29H601.17V280.46H594.30ZM614.91 275.29H628.65V280.46H614.91ZM271.42 279.86H319.51V285.02H271.42ZM429.42 279.86H498.12V285.02H429.42ZM594.30 279.86H601.17V285.02H594.30ZM614.91 279.86H628.65V285.02H614.91ZM264.55 284.42H326.38V289.58H264.55ZM429.42 284.42H491.25V289.58H429.42ZM594.30 284.42H601.17V289.58H594.30ZM614.91 284.42H628.65V289.58H614.91ZM264.55 288.98H340.12V294.14H264.55ZM429.42 288.98H484.38V294.14H429.42ZM594.30 288.98H601.17V294.14H594.30ZM614.91 288.98H635.52V294.14H614.91ZM663.00 288.98H669.87V294.14H663.00ZM264.55 293.54H346.99V298.71H264.55ZM436.29 293.54H484.38V298.71H436.29ZM601.17 293.54H608.04V298.71H601.17ZM663.00 293.54H676.74V298.71H663.00ZM264.55 298.11H346.99V303.27H264.55ZM436.29 298.11H484.38V303.27H436.29ZM669.87 298.11H683.61V303.27H669.87ZM271.42 302.67H346.99V307.83H271.42ZM436.29 302.67H484.38V307.83H436.29ZM271.42 307.23H340.12V312.39H271.42ZM436.29 307.23H484.38V312.39H436.29ZM642.39 307.23H663.00V312.39H642.39ZM669.87 307.23H676.74V312.39H669.87ZM271.42 311.79H340.12V316.96H271.42ZM436.29 311.79H484.38V316.96H436.29ZM498.12 311.79H504.99V316.96H498.12ZM635.52 311.79H663.00V316.96H635.52ZM669.87 311.79H676.74V316.96H669.87ZM278.29 316.36H340.12V321.52H278.29ZM436.29 316.36H484.38V321.52H436.29ZM498.12 316.36H504.99V321.52H498.12ZM635.52 316.36H676.74V321.52H635.52ZM285.16 320.92H340.12V326.08H285.16ZM436.29 320.92H477.51V326.08H436.29ZM498.12 320.92H504.99V326.08H498.12ZM628.65 320.92H683.61V326.08H628.65ZM285.16 325.48H333.25V330.64H285.16ZM436.29 325.48H477.51V330.64H436.29ZM491.25 325.48H498.12V330.64H491.25ZM621.78 325.48H690.48V330.64H621.78ZM285.16 330.04H326.38V335.21H285.16ZM436.29 330.04H477.51V335.21H436.29ZM491.25 330.04H498.12V335.21H491.25ZM621.78 330.04H690.48V335.21H621.78ZM285.16 334.61H319.51V339.77H285.16ZM443.16 334.61H470.64V339.77H443.16ZM621.78 334.61H690.48V339.77H621.78ZM278.29 339.17H319.51V344.33H278.29ZM443.16 339.17H470.64V344.33H443.16ZM621.78 339.17H690.48V344.33H621.78ZM278.29 343.73H319.51V348.89H278.29ZM443.16 343.73H463.77V348.89H443.16ZM621.78 343.73H690.48V348.89H621.78ZM278.29 348.29H312.64V353.46H278.29ZM663.00 348.29H690.48V353.46H663.00ZM278.29 352.86H305.77V358.02H278.29ZM669.87 352.86H683.61V358.02H669.87ZM731.70 352.86H738.57V358.02H731.70ZM278.29 357.42H298.90V362.58H278.29ZM731.70 357.42H738.57V362.58H731.70ZM278.29 361.98H292.03V367.14H278.29ZM717.96 361.98H731.70V367.14H717.96ZM278.29 366.54H292.03V371.71H278.29ZM717.96 366.54H731.70V371.71H717.96ZM278.29 371.11H292.03V376.27H278.29ZM278.29 375.67H285.16V380.83H278.29ZM278.29 380.23H285.16V385.39H278.29ZM285.16 384.79H292.03V389.96H285.16ZM285.16 403.04H305.77V408.21H285.16ZM580.56 403.04H669.87V408.21H580.56ZM271.42 407.61H305.77V412.77H271.42ZM491.25 407.61H704.22V412.77H491.25ZM209.59 412.17H216.46V417.33H209.59ZM237.07 412.17H312.64V417.33H237.07ZM429.42 412.17H450.03V417.33H429.42ZM456.90 412.17H711.09V417.33H456.90ZM175.24 416.73H340.12V421.89H175.24ZM388.21 416.73H724.83V421.89H388.21ZM82.50 421.29H92.80V426.46H82.50ZM147.76 421.29H353.86V426.46H147.76ZM367.60 421.29H742.00V426.46H367.60ZM82.50 425.86H742.00V431.02H82.50ZM82.50 430.42H742.00V435.58H82.50ZM82.50 434.98H742.00V440.14H82.50ZM82.50 439.54H742.00V444.71H82.50ZM82.50 444.11H742.00V449.27H82.50ZM82.50 448.67H742.00V451.55H82.50Z"/>
<path d="M484.4 207.3L488.5 209.4L486.7 211.8L484.4 211.6ZM504.6 200.8L510.8 201.8L512.4 203.9L510.1 206.1L507.3 204.6L505.2 202.5ZM502.2 212.1L505.0 212.4L505.0 218.7L502.8 216.2ZM519.3 203.2L522.4 201.4L524.8 202.5L524.2 205.8L521.1 207.0L519.3 205.8Z" fill="#d4d4d4"/>
<path d="M107.2 161.2L112.0 159.9L118.9 157.8L125.1 156.4L131.2 157.1L139.5 157.1L145.0 158.5L153.2 159.6L161.5 161.0L167.0 160.2L173.9 158.8L180.8 157.4L183.5 153.7L189.0 152.3M182.1 157.1L185.6 156.0L189.0 156.0M83.1 161.2L88.6 162.3L94.1 164.0L99.6 165.1M83.1 166.8L88.6 167.4L94.1 168.8L99.6 170.2M107.2 161.2L109.9 164.0L106.5 165.4L112.0 166.1L108.6 168.1L114.8 168.8L117.5 170.2L114.1 170.9M135.4 174.3L138.1 172.9L140.9 174.3M183.5 165.4L189.0 166.1M96.9 168.1L101.0 167.4M99.6 171.2L102.4 171.6M189.0 146.1L194.5 144.8L200.0 144.1L205.5 145.4L209.6 144.1L213.8 146.1L209.6 147.5L204.1 148.2L198.6 147.5L193.1 148.9L189.0 148.2M189.0 150.9L195.9 151.6L202.8 153.0L209.6 152.3L216.5 154.4L223.4 153.7L220.6 156.4L224.8 159.2L230.2 159.9L234.4 157.8L237.1 159.9M195.9 155.8L201.4 157.8L206.9 157.1L212.4 159.9L217.9 161.2L215.1 163.3L220.6 164.0L227.5 162.6L234.4 164.0L239.9 161.9M217.9 142.0L223.4 143.4L220.6 145.4L226.1 146.8L231.6 145.4L235.8 147.5L230.2 149.6L234.4 152.3L228.9 153.7L223.4 150.9L219.2 152.3M230.2 140.6L235.8 139.2L241.2 141.3L238.5 143.4L244.0 144.8L249.5 142.7L246.8 139.9L252.2 137.9L257.8 139.2L255.0 142.0L260.5 143.4L266.0 141.3L263.2 138.6L268.8 136.5L274.2 137.9L279.8 136.5L285.2 137.2L290.8 135.8L296.2 137.2M244.0 136.5L249.5 135.1L255.0 136.5L260.5 135.1L266.0 135.8L271.5 134.4L278.4 134.8M249.5 146.1L255.0 147.5L252.2 150.2L257.8 151.6L263.2 149.6L260.5 146.8L266.0 145.4L271.5 144.1L274.2 142.0L279.8 140.6L285.2 142.0L290.8 140.6M241.2 153.0L246.8 155.1L244.0 157.8L249.5 159.9L255.0 158.5L252.2 155.8L257.8 154.4L263.2 156.4L268.8 155.1M248.1 151.6L253.6 153.0L259.1 152.3L263.2 153.0L268.8 151.6M266.0 158.5L271.5 159.9L277.0 161.2L274.2 164.0L279.8 165.4L285.2 164.0L288.0 166.8L283.9 169.5L289.4 171.6L293.5 170.2M244.0 166.8L249.5 168.1L246.8 170.9L252.2 172.2L257.8 170.2L260.5 167.4L263.2 169.5L260.5 172.9L266.0 174.3M268.8 164.0L271.5 166.8L268.8 169.5L272.9 171.6L277.0 169.5L279.8 172.2M278.4 144.8L283.9 146.1L288.0 148.9L285.2 151.6L288.0 155.8L285.2 159.9L290.8 161.2M189.0 165.4L194.5 166.8L191.8 168.8L197.2 169.5M198.6 172.9L204.1 172.0L209.6 172.9L212.4 172.0M290.8 166.8L294.9 168.1L299.0 167.4M234.4 161.2L238.5 164.0L244.0 162.6L241.2 166.1L235.8 166.8M197.2 149.6L202.8 150.2L208.2 149.2L213.8 150.5L219.2 149.6M202.8 154.4L208.2 155.1L213.8 156.4L219.2 158.5L223.4 161.2M237.1 148.2L242.6 149.6L246.8 148.2L250.9 149.6M255.0 137.9L259.1 137.2L263.2 137.6L260.5 139.2L266.0 139.9L271.5 139.2L277.0 138.6M271.5 147.5L277.0 148.9L274.2 151.6L279.8 153.0L277.0 155.8L282.5 157.1M299.0 137.2L304.5 136.5L311.4 136.2L319.6 135.8L323.8 134.4L330.6 135.1L338.9 133.8L345.8 133.8L351.2 134.8L358.1 135.1L365.0 135.4L370.5 136.8L377.4 137.6L384.2 137.2L389.8 137.9L384.2 139.0L378.8 139.2L373.9 140.6L376.0 142.7L373.2 144.8L375.3 147.5L373.9 149.6L367.8 152.3L363.6 153.7L370.5 154.4L373.2 156.4L367.8 157.8L362.2 157.1L359.5 158.5L363.6 159.2L367.8 159.9L360.9 161.2L354.0 162.6L349.9 164.0L345.8 166.1L340.2 167.4L337.5 169.5L335.4 172.2L334.1 175.0M299.0 146.8L303.1 147.5L307.2 149.6L310.7 152.3L312.8 155.1L315.5 156.4L318.2 157.8L319.6 159.9L315.5 160.6L312.8 159.2L314.1 161.9L316.9 164.0L318.2 167.4L320.3 168.8L319.6 171.6L321.0 175.0M370.5 166.8L373.9 166.1L378.1 166.5L381.5 165.8L385.6 166.1L387.7 167.8L384.9 169.2L380.1 170.2L375.3 170.6L371.9 169.5L369.8 168.1L370.5 166.8M395.2 156.8L397.3 157.1M399.1 173.3L400.5 173.9M299.0 165.4L300.1 165.7M351.2 134.8L356.8 133.8L362.2 134.3L367.8 135.4M431.7 142.0L435.1 140.6L440.6 139.9L446.1 139.2L451.6 139.7L457.1 140.3L461.9 140.9L464.0 142.7L458.5 143.7L454.4 145.4L450.2 144.8L446.1 146.1L442.0 145.4L438.6 144.1L434.4 143.7L431.7 142.0M440.6 142.0L447.5 141.7L453.0 142.7L457.1 142.0M469.5 140.6L472.9 139.9M493.6 139.2L498.4 139.7L505.2 138.6L510.8 139.0L516.2 137.9L519.0 137.6M514.9 139.9L519.0 139.2M422.8 172.9L426.9 170.9L431.0 168.1L435.1 164.0L439.2 161.2L444.8 159.2L450.2 157.4L455.8 156.8L461.2 157.1L466.8 157.1L470.9 159.2L475.0 160.2L480.5 161.0L484.6 161.9L486.0 164.0L490.1 164.7L494.2 162.6L498.4 161.9L502.5 160.6L505.2 159.9M470.9 164.0L475.0 165.4L477.8 167.4L480.5 166.8L483.9 167.4L486.7 168.4L483.2 169.8L479.1 169.2L477.8 171.6L476.4 175.0M443.4 175.0L444.8 172.9L448.2 170.9L451.6 168.8L454.4 166.8L457.8 167.0L457.1 169.2L453.7 170.6L450.9 172.9L449.6 175.0M505.2 153.0L509.4 150.9L513.5 149.6L519.0 148.2M506.6 155.1L510.8 156.8L515.6 157.4L519.0 156.4M510.8 152.3L514.9 154.4L519.0 153.0M426.2 153.0L427.6 153.4M468.1 172.9L470.2 173.9M476.4 172.2L477.1 173.9M519.0 139.2L524.5 138.6L531.4 137.9M519.0 140.6L525.9 139.9M519.0 148.2L524.5 147.5L531.4 146.8L538.2 146.4M519.0 150.9L523.1 150.0M519.0 159.2L521.8 160.6L524.5 159.9M532.8 157.1L535.5 155.8L539.6 153.0L543.8 152.3L546.5 154.4L545.1 157.8L546.5 161.2L543.8 164.0L541.0 165.4M536.2 159.2L538.2 161.2L535.5 160.6M546.5 157.1L550.6 155.8L554.8 154.4L558.9 153.0L561.6 154.4L564.4 156.4L565.1 158.5L562.3 157.8M548.6 159.9L552.7 160.6L556.1 163.3L552.0 161.9M561.6 153.7L567.1 150.9L571.2 149.6L576.8 148.2L582.2 146.8L587.8 146.1L593.2 145.4L598.8 146.8L604.2 147.5L609.8 146.8L615.2 147.5L620.8 148.9L621.4 152.3L618.0 150.9L613.9 151.9L608.4 153.0L602.9 154.1M579.5 139.9L585.0 139.2L590.5 140.6L587.8 142.0L583.6 141.7L579.5 139.9M590.5 140.6L596.0 142.0L600.1 144.1L604.2 144.8L608.4 143.7M586.4 146.1L590.5 144.8L594.6 143.4M558.9 138.3L560.2 139.0M629.0 152.3L634.8 152.8L640.5 152.3L647.7 153.1L649.8 155.9L652.7 157.4L657.8 156.2L663.5 156.7L666.4 155.2L672.1 154.5L677.9 154.9L683.6 155.2L690.8 156.7L696.6 157.7L703.8 158.1L706.6 159.5L712.4 160.0L718.1 159.5L722.4 160.5L728.2 159.5L733.9 159.1L739.7 158.1L741.1 156.7M659.9 149.5L663.5 148.0L669.2 148.5L675.0 148.8L672.1 150.2L666.4 150.5L661.3 150.9M679.3 149.2L684.3 149.5L688.7 149.9M669.2 152.3L673.6 152.8M698.0 174.6L702.3 173.5L706.6 174.3M709.5 173.9L713.8 172.5M729.6 174.3L735.4 172.5L739.0 170.3L740.4 168.2M102.4 189.4L106.5 188.1L110.6 186.7L114.8 185.3L118.9 183.9L123.0 181.9L126.4 179.8L128.5 177.8L130.6 175.0M127.8 181.2L129.9 182.6L131.9 180.5L134.0 177.8L138.1 175.7L142.2 175.0M85.2 192.2L88.6 191.5M92.8 191.2L96.2 190.5M84.5 195.6L85.9 195.6M95.5 176.7L96.9 176.4M100.3 182.6L101.0 183.0M106.5 177.1L108.6 176.4M142.2 175.0L147.8 176.1L153.2 176.7L158.8 177.8L162.9 179.1L165.6 181.2L168.4 183.2L167.0 185.3L169.8 186.7L172.5 188.8L175.2 190.8L177.3 192.9L180.1 194.9L182.1 197.7L183.5 199.8L184.2 202.5L184.9 206.6L184.6 210.8L185.6 214.9L187.6 216.9L189.0 219.0M164.2 181.9L167.7 184.6L169.8 188.1L173.9 191.5M175.2 192.9L178.0 195.6L181.4 197.0M113.4 175.7L115.4 177.8L114.1 179.1M238.5 175.0L239.2 178.4L241.9 181.2L244.0 183.2L246.8 183.9M263.2 188.1L263.9 191.5L266.0 193.6L268.8 192.2L269.4 188.8M270.1 175.0L271.5 179.1L272.2 183.2M227.5 190.1L230.2 188.1L233.0 187.4L234.4 190.1L233.7 193.6L231.6 194.9L230.2 192.2L227.5 190.1M237.8 196.3L241.9 197.7M209.6 179.1L213.8 178.0L217.2 178.4M224.1 181.2L225.8 180.5L225.0 183.2M244.0 201.1L247.4 199.1L251.6 197.3L255.0 198.4L257.8 200.4L255.0 201.8L252.9 203.9L251.6 207.3L252.2 210.1L254.3 209.4L255.0 205.9L256.4 202.5L259.8 201.8L263.2 203.2L265.3 205.2L263.2 207.3L261.2 209.4L259.8 211.0L261.9 210.8L264.6 209.1L268.1 208.0L271.5 206.9L273.6 206.3M266.0 230.0L268.1 227.2L271.5 223.1L272.9 219.0L270.8 216.2L273.6 214.9L277.7 212.1L282.5 210.1L286.6 208.0L290.8 205.9L293.5 203.9L292.8 201.1L294.9 199.1L297.6 197.7L299.0 197.0M281.1 201.1L285.2 199.1L289.4 197.0L293.5 195.6L299.0 194.9M277.7 204.6L278.4 205.9M283.9 175.0L285.2 177.8L287.3 179.8L290.8 179.1L294.9 177.8L299.0 178.4M205.5 211.0L206.9 211.8M202.3 220.7L203.2 221.2M234.7 224.5L235.8 225.2M192.4 215.3L193.1 215.7M189.0 218.3L191.8 221.8L194.5 225.2L197.2 227.9L199.3 230.0M299.0 188.1L302.4 186.7L305.9 188.8L309.3 190.1L307.2 192.9L305.2 195.6L307.2 197.7L310.7 197.0L313.4 198.4L315.5 200.4L312.8 201.4L309.3 200.4L305.9 199.1L303.1 200.4L300.4 202.5L299.0 203.9M299.0 183.2L301.1 185.3L299.7 186.7M323.8 175.0L326.5 176.1L329.9 176.7L332.7 175.7M394.6 188.8L397.3 186.7L400.8 187.4L402.1 189.4L400.1 191.5L396.6 192.2L394.6 190.8L394.6 188.8M400.1 181.2L403.5 179.1L406.9 179.8L405.6 182.6L407.6 184.6L409.0 186.7M401.4 183.2L404.2 185.3L402.8 188.1L405.6 190.1L408.3 192.2L409.0 194.2M402.8 194.2L406.2 195.6L409.0 195.6M403.5 199.1L407.6 200.4L409.0 199.8M409.0 208.0L406.2 207.4L400.8 206.9L395.9 207.3L395.2 212.1L396.6 216.2L395.9 220.4L399.4 221.1L403.5 221.8L401.4 223.8L398.0 225.9L395.2 227.9L393.9 230.0M360.2 216.0L363.6 216.5L366.4 217.9L366.1 219.7M355.1 214.6L355.6 215.2M381.2 226.6L382.3 227.2M409.0 194.2L411.8 195.6L415.2 193.6L418.6 191.5L422.1 189.4L425.5 186.7L428.2 183.9L431.0 181.9L433.1 179.8L431.7 177.1L432.4 175.0M431.0 181.9L434.4 183.2L436.5 181.2L435.1 178.4L436.5 176.4M409.0 188.1L411.8 189.4L413.8 192.2L411.8 194.9L409.0 196.3M409.0 220.4L412.4 216.2L415.9 211.4L417.9 208.7L422.8 208.0L426.9 206.9L429.6 205.5L431.7 207.7L431.0 210.8M434.4 204.6L437.2 203.2L439.9 205.9L443.4 208.7L446.8 211.0L449.6 213.5L448.9 216.2L446.1 215.6L444.1 212.8L440.6 211.0L437.9 208.7L435.1 207.3L434.4 204.6M426.9 210.1L428.9 209.4L429.6 213.5L427.6 214.9L426.6 212.1L426.9 210.1M438.6 216.9L443.4 216.2L442.7 219.0L439.2 218.7L438.6 216.9M449.6 210.1L453.0 212.8L455.1 215.6L454.4 219.0L457.1 221.1L459.9 219.0L458.5 215.6L461.2 213.5L464.0 211.4M459.9 220.4L465.4 219.7L470.9 220.4L476.4 219.7L477.8 221.8L476.4 225.9L475.7 230.0M409.0 222.4L414.5 221.8L421.4 221.1L428.2 221.8L431.7 224.5L435.1 226.6L437.2 229.3M448.9 227.9L454.4 226.6L459.9 227.2L465.4 228.6L470.9 227.9L475.0 228.6M463.3 211.4L464.0 208.0L466.8 204.6L470.2 201.8L473.6 203.2L477.1 201.8L480.5 201.1L483.9 200.4M477.8 203.9L481.9 205.9L486.0 207.3L488.8 209.4L486.7 211.8L481.9 211.4L476.4 211.0L470.9 211.8L466.8 212.1L463.3 211.4M498.4 203.2L501.8 201.1L506.6 200.4L510.8 201.8L512.8 203.9L510.8 205.9L508.0 207.3L510.1 210.1L511.4 213.5L510.8 217.6L507.3 219.7L503.9 218.7L501.8 215.6L503.2 212.1L501.1 208.7L498.4 205.9L498.4 203.2M518.3 204.6L519.0 206.6M519.0 203.2L522.4 201.1L525.2 202.5L524.5 205.9L521.1 207.3L519.0 205.9M546.5 201.8L550.6 201.1L556.8 201.4L554.8 202.5L549.2 203.2L547.9 204.6M602.2 192.6L605.6 191.5L609.8 188.8L613.2 185.3L612.5 188.1L609.1 190.8L604.9 192.9L602.2 192.6M627.6 215.6L629.0 216.2M659.9 185.8L664.9 183.6L669.2 181.5L673.6 179.3L678.6 177.9L685.1 177.2L690.8 177.6L694.4 178.6L696.6 176.4L698.7 175.0M659.9 185.8L663.5 187.2L667.1 188.7L668.5 192.2L667.8 196.6L665.7 200.2L662.8 203.8L659.2 206.6L655.6 208.8L652.0 209.5L650.6 211.7L647.0 213.8L644.8 216.7L647.0 218.8L649.1 221.0L647.7 223.2M643.4 214.5L640.5 216.7L642.7 219.6L643.4 222.4L645.5 224.6L644.1 221.7M629.0 216.7L631.9 214.5L634.8 212.7L636.2 214.5L634.0 216.7L631.2 218.1L629.0 218.8M634.8 212.7L639.1 211.7L641.9 213.1L643.4 214.5M629.0 222.4L631.2 224.6L631.9 227.5L630.4 230.1M672.1 187.2L673.3 190.8L674.3 194.4L675.7 198.0L677.2 200.2L675.7 200.9L673.9 198.0L672.4 194.4L671.4 190.8L672.1 187.2M698.7 183.6L700.9 181.5L703.8 179.3L707.3 177.2L709.5 175.0M698.7 183.6L697.3 187.2L696.6 190.8L698.0 193.0L700.9 190.8L703.8 187.9L706.6 185.1L708.8 182.2L711.7 179.3L714.5 177.2L716.7 175.0M678.6 207.3L680.0 206.3M682.2 204.9L683.6 204.0M685.8 202.7L687.2 201.9M689.4 200.6L690.8 199.6M693.0 198.0L695.8 195.8M670.0 204.5L672.8 203.0L675.7 203.8L676.4 205.9L674.3 207.8L671.4 208.3L670.0 206.6L670.0 204.5M670.7 209.5L672.1 212.4L670.7 215.2L667.8 217.4L664.9 218.1L662.8 220.3L659.9 221.7L657.0 222.7L654.2 223.9L652.0 225.3L650.6 227.5L652.7 228.2L655.6 226.8L658.5 225.3L661.3 224.6L663.5 223.2L666.4 221.7L668.5 219.6L670.7 217.4L672.1 214.5L672.8 211.7L670.7 209.5M648.4 224.6L650.6 225.3L652.0 228.2L650.6 230.1M653.4 225.3L655.6 227.5L654.2 229.6M716.0 185.8L717.0 186.5M719.3 186.8L720.1 187.4M728.2 189.8L729.2 190.4M736.8 192.0L737.7 192.5M739.7 191.1L740.8 192.0M733.9 213.8L739.7 213.5M119.3 246.8L120.7 247.3M122.3 247.6L125.1 248.6L127.1 250.3L128.2 251.7L126.8 252.0L125.8 250.6M115.4 276.5L115.8 276.9M125.1 283.4L125.8 284.3M199.3 230.0L201.4 232.8L203.4 235.5L205.5 238.2L208.2 241.0L211.0 243.8L209.6 241.7L206.9 238.2L204.8 235.5L202.8 232.1L202.1 230.0M205.5 230.0L208.2 233.4L211.7 236.9L215.1 240.3L217.2 243.8L218.6 247.2L220.6 250.6L224.1 253.4L228.2 255.4L233.0 256.8L237.8 257.5L241.9 259.1L245.4 260.9L249.5 263.0L252.9 265.1L255.7 267.1L258.4 269.2L261.2 271.0L263.9 271.9L266.7 271.2L268.8 272.6L270.1 276.1L270.8 280.2L270.1 285.0M233.7 243.1L233.3 239.6L234.4 236.9L237.1 234.4L241.2 233.0L246.8 232.1L252.2 231.7L257.1 232.1L259.1 234.1L260.5 236.9L261.9 239.6L263.9 241.0L263.2 238.2L261.9 235.5L261.2 232.8L262.6 230.0M233.7 243.1L234.4 246.5L235.8 249.9L237.8 252.0L241.2 252.7L244.7 252.0L246.8 249.2L249.5 247.9L251.6 247.2L253.6 248.6L252.2 251.3L250.9 254.1L249.5 256.8M244.7 255.4L247.4 254.8L249.5 256.8L253.6 257.2L257.8 257.5L259.8 259.6L259.1 263.0L259.8 266.4L261.9 269.2L264.6 270.6L268.1 269.9L271.5 270.6L274.2 268.5L277.0 266.9L279.8 265.1L283.9 264.4L286.6 265.1L285.2 266.9M274.2 268.5L278.4 266.0L282.5 264.6L288.0 264.4L293.5 265.1L299.0 266.0M281.1 269.9L282.5 267.8M257.1 247.2L260.5 245.4L264.6 244.4L268.8 245.1L272.9 246.5L277.0 247.9L280.4 249.2L283.9 249.9L281.1 250.6L277.0 249.9L272.9 248.6L268.8 247.6L264.6 246.8L260.5 247.2L257.1 247.2M277.0 251.3L280.4 250.3L284.6 250.6L287.3 252.0L285.2 253.7L281.1 253.4L277.7 253.1L277.0 251.3M268.1 238.9L270.8 241.0M273.6 243.1L276.3 245.1L279.1 246.8M266.0 238.2L268.8 236.9M270.1 252.7L273.6 252.4L273.1 253.7L270.4 253.7L270.1 252.7M290.1 252.7L292.8 253.0M195.2 234.1L195.9 234.5M394.6 230.0L393.2 232.8L389.8 235.5L387.0 238.2L384.2 241.7L382.2 245.1L381.5 249.2L381.2 253.4L381.5 257.5L380.8 260.9L382.2 264.4L384.9 267.8L387.7 271.2L390.4 274.0L393.2 276.8L396.6 278.4L400.8 278.1L404.9 277.4L409.0 278.1M381.2 235.2L383.1 235.8M385.4 234.8L387.0 233.8M387.0 241.7L387.6 242.7M365.0 255.4L366.6 256.1M368.4 256.4L370.2 256.8M367.8 259.1L369.4 259.6M299.0 255.4L300.1 257.5L299.7 260.2L300.6 264.4L300.4 267.8L302.4 270.6L305.9 273.3L310.0 276.1L314.1 278.8L318.2 281.1L320.3 285.0M470.9 231.4L472.9 235.5L475.0 239.6L477.1 243.8L479.1 247.9L481.9 252.0L484.6 256.1L487.4 259.6L490.1 263.0L491.5 265.1M475.7 232.8L477.8 236.9L480.5 241.0L483.2 245.1L486.0 249.2L488.8 253.4L490.8 257.5L491.5 261.6L492.2 264.4M473.6 230.0L474.3 232.1L476.4 231.4L475.7 230.0M491.5 265.1L494.9 264.4L499.1 263.0L503.9 260.9L508.0 258.2L512.1 255.4L516.2 252.7L519.0 250.6M490.1 266.0L493.6 267.8L497.7 267.1L502.5 266.0L506.6 265.5L508.0 266.9L505.9 269.9L503.9 274.0L501.1 278.1L498.4 281.6L495.6 285.0M499.8 232.1L501.1 230.7L503.9 231.1L505.2 233.4L507.3 235.5L510.1 236.2L512.8 236.9L514.9 238.2L516.2 240.3L519.0 241.7M500.4 234.1L502.5 236.2L505.2 238.2L507.3 240.3L510.1 242.4L512.8 242.7L515.6 241.7M515.6 237.6L517.6 239.6L519.0 239.6M436.2 261.4L438.6 262.3L440.4 263.0L439.0 264.4L437.2 263.0L436.2 261.4M477.8 278.8L479.1 280.2L479.4 282.2M468.1 282.9L470.2 283.9M409.0 271.2L411.1 272.6L411.8 274.7L413.1 276.1L417.2 276.5L421.4 276.8L425.5 278.1L428.9 279.8L430.3 282.2L429.6 285.0M442.7 230.0L446.1 231.1L448.9 230.0M462.6 230.0L465.4 230.7M519.0 240.3L524.5 239.9L530.0 239.6L533.4 239.9L535.5 242.4L538.2 245.1L540.3 247.9L542.4 248.6L544.4 245.8L545.1 249.2L545.8 252.7L547.2 256.8L548.6 260.9L550.6 265.1L552.7 269.2L554.1 271.9L555.4 271.2L557.2 269.2L558.2 265.8L558.2 261.6L558.9 258.2L560.9 256.1L563.7 254.8L566.4 252.7L569.2 249.9L571.9 247.9L574.7 246.8L577.4 245.4L579.5 245.1L581.6 247.2L583.6 249.9L585.7 252.7L587.8 255.4L589.8 256.8L591.2 259.6L592.6 263.0L593.2 267.1L593.9 271.2L595.3 274.0L596.0 276.8L598.1 280.2L600.1 282.9L601.5 285.0M519.0 244.4L521.1 245.1L521.8 247.2L520.1 248.6L519.0 247.9M558.9 271.2L560.5 269.9L561.9 271.9L561.6 274.7L560.0 276.1L558.6 274.3L558.9 271.2M544.4 265.8L545.8 266.4L545.8 268.5M545.8 271.2L546.2 276.8L546.5 282.9M582.2 262.3L582.5 265.8M582.5 274.0L584.3 274.7M593.9 271.2L594.6 267.1L595.3 263.7L596.7 262.3L599.4 264.4L601.5 266.4L604.2 268.5L605.6 271.2L607.7 270.6L610.4 267.1L612.5 263.7L613.2 259.6L612.5 256.1L609.8 254.1L607.0 252.7L605.6 250.6L607.7 247.9L610.4 246.2L613.9 246.5L618.0 246.2L622.1 244.4L626.2 243.1L629.0 240.3M611.4 250.6L613.2 249.5L615.0 250.9L613.9 252.7L611.8 252.3L611.4 250.6M586.4 277.4L589.1 278.8L592.6 280.9L595.3 282.9L597.4 285.0M587.8 281.6L590.5 283.6L591.9 285.0M595.3 276.8L598.1 278.1L600.1 280.2M620.1 277.4L622.8 276.1L626.2 275.4L629.0 274.0M635.5 230.0L634.8 232.9L633.3 235.8L631.2 237.9L629.0 239.3M632.6 242.9L634.0 241.5L635.5 242.9L634.8 245.5L633.3 247.0L632.6 245.1L632.6 242.9M652.0 230.7L651.6 231.7M650.6 233.2L650.0 234.0M648.4 235.8L647.7 236.8M646.2 238.6L645.1 239.5M641.2 240.8L640.2 241.5M632.6 255.2L634.0 253.0L636.2 253.7L636.5 256.6L634.8 258.8L633.0 258.0L632.6 255.2M631.9 260.9L634.0 259.5L636.2 260.9L637.6 263.8L639.8 265.9L639.1 268.8L641.2 271.0L642.7 273.1L640.5 275.3L638.3 273.8L636.9 271.0L637.6 268.1L635.9 265.9L634.8 263.8L632.6 263.1L631.9 260.9M629.0 271.7L631.2 268.1L632.6 264.5M637.6 273.1L640.5 276.0L643.4 277.4L644.8 280.3L642.7 281.8M635.5 276.0L637.6 278.9M678.6 250.8L678.9 251.8M679.3 254.4L679.3 255.3M678.6 259.5L678.3 260.5M677.2 262.8L676.9 263.6M664.9 269.5L665.7 270.2M658.5 273.1L659.5 273.6M692.2 276.7L693.0 277.4M702.3 274.3L703.5 274.9M710.2 276.7L711.2 277.4M717.4 266.7L718.4 269.5M719.6 271.0L720.3 272.0M724.6 271.4L725.6 272.1M647.0 282.9L647.7 284.3M641.2 280.3L641.9 281.2M716.4 251.3L717.3 251.7M96.9 303.6L97.6 304.2M117.5 305.6L118.6 306.3M123.0 302.9L123.8 303.7M96.2 312.2L97.6 313.1M134.7 317.3L135.7 318.0M138.1 319.1L139.5 320.1M101.0 321.9L101.8 322.4M90.7 325.3L91.7 326.0M144.3 313.2L145.0 314.1M145.7 318.7L146.4 319.6M146.4 323.2L147.1 323.8M154.6 302.9L156.7 303.6L158.1 305.4M155.3 316.4L155.7 316.9M154.6 322.1L155.0 322.8M154.6 326.2L155.3 326.9M161.5 329.3L162.1 329.8M164.2 326.2L164.9 326.9M173.9 333.1L174.4 333.7M183.5 332.4L184.2 332.9M267.4 285.0L265.3 287.1L264.6 290.5L265.3 292.6L263.9 295.3L264.6 298.8L266.7 302.2L268.8 305.6L270.8 309.1L272.9 312.5L275.6 315.2L279.1 317.3L281.8 319.4L283.2 322.1L283.9 326.2L283.6 330.4L283.2 335.2L282.5 340.0M244.0 287.1L246.8 287.8L248.8 288.9L246.1 289.1L244.0 287.1M283.6 315.2L285.9 316.4L286.9 317.7L285.0 317.3L283.6 315.2M211.7 337.0L212.4 337.5M320.3 285.0L319.6 287.8L318.2 289.8L320.3 290.8L323.1 289.8L322.6 287.5L324.4 288.4L328.6 289.8L332.7 291.2L337.5 292.6L341.6 293.9L345.1 295.3L347.8 297.4L348.5 300.8L347.1 304.2L345.1 307.0L342.3 309.8L340.2 312.5L340.0 315.9L340.2 319.4L339.6 322.8L337.5 325.6L335.4 327.6L332.0 329.0L328.6 330.4L325.8 331.8L323.8 333.8L323.1 337.2L322.6 340.0M429.6 285.0L428.9 288.4L430.3 291.9L433.1 294.6L435.1 298.1L436.5 302.2L437.2 306.3L435.8 310.4L434.4 314.6L435.1 318.7L436.5 322.8L437.9 326.9L438.6 331.1L439.9 335.2L442.0 338.6L443.4 340.0M494.2 285.0L491.5 287.8L488.8 289.8L486.0 291.9L484.6 295.3L483.9 299.4L484.6 303.6L485.3 307.0L485.7 311.1L485.3 314.6L483.2 317.3L480.5 319.4L477.8 321.4L475.7 324.2L476.4 327.6L475.7 331.1L473.6 333.8L472.0 336.6L471.6 340.0M470.2 288.4L471.6 286.6L474.3 287.1L475.0 289.8L472.9 291.9L470.9 291.2L470.2 288.4M466.1 293.2L466.8 296.7L468.1 300.1L469.5 302.9M474.7 304.2L475.7 307.7L476.4 311.1L476.6 313.2M461.2 319.4L463.3 318.0L465.1 317.4M502.5 309.8L503.9 311.8L504.1 315.2L503.2 319.4L501.8 323.5L500.4 327.6L499.1 331.1L497.0 333.4L494.2 334.2L492.2 332.4L491.5 329.0L492.2 324.9L492.9 321.4L494.2 318.0L497.0 315.5L499.1 313.2L500.9 310.9L502.5 309.8M491.5 308.4L493.6 310.0L494.9 310.4M512.8 295.3L513.8 295.7M513.5 325.6L514.6 326.2M591.9 285.0L594.6 288.4L597.4 291.9L600.1 294.6L602.9 297.4L605.6 298.8M598.1 285.0L600.8 287.8L603.6 290.5L606.3 292.6L607.7 295.3L607.0 298.1M607.0 298.8L611.1 299.4L615.2 300.1L619.4 300.8L623.5 301.2L627.6 301.8L629.0 302.2M608.4 300.4L613.9 301.5L619.4 302.2L624.9 302.6M613.9 285.0L614.6 288.4L615.9 291.2L619.4 292.6L623.5 293.2L625.6 291.2L626.9 287.8L627.6 285.0M609.1 289.1L610.4 290.5L609.8 292.6M629.0 324.2L625.6 325.6L622.8 326.9L621.4 329.7L620.8 333.1L621.4 336.6L621.0 340.0M546.2 286.6L546.8 287.5M613.9 305.6L615.2 306.7M624.9 298.8L626.9 299.9M630.4 290.0L632.6 289.0L634.8 290.8L635.5 293.6L636.9 295.8L634.8 295.1L632.6 292.9L630.7 292.2L630.4 290.0M637.6 287.9L640.5 289.3L643.4 288.6M633.3 285.7L636.2 286.7M640.5 291.5L643.4 292.9L646.2 292.2M648.4 290.0L651.3 291.5L654.2 290.8L657.0 292.9L659.9 292.2M629.0 303.0L632.6 302.2L636.2 303.4L640.5 302.5L644.8 302.0M636.9 306.6L641.2 305.1L644.1 304.0M652.0 297.2L654.2 298.7M629.0 295.8L631.9 297.2L634.8 296.2M661.3 289.3L664.9 290.5L668.5 290.0L672.1 291.5L675.7 293.6L679.3 295.8L682.9 297.2L685.8 299.4L687.9 302.2L690.1 304.4L687.2 305.8L684.3 304.4L681.5 302.2L678.6 300.8L676.4 302.0L674.3 304.4L671.4 303.7L668.5 301.5L666.4 298.7L664.2 295.8L664.9 292.9L662.8 291.5L661.3 289.3M685.8 295.8L688.7 294.3L691.5 295.1L692.2 297.2L689.4 297.9M695.1 296.5L698.0 298.7M700.9 300.8L703.8 303.0M706.6 305.1L708.8 306.9M686.5 290.0L687.9 291.5M717.4 314.5L718.8 317.3M720.3 320.9L721.7 323.5M712.4 324.1L715.2 326.0L718.1 327.4L719.6 326.7M716.0 306.6L716.7 307.7M705.9 309.4L706.6 310.2M736.1 319.5L738.2 318.8L740.4 317.3L741.1 319.5M739.0 305.8L740.4 306.6M629.0 323.1L631.9 321.7L635.5 318.8L638.3 317.3L641.2 314.5L643.4 312.3L646.2 313.8L648.4 315.2L650.6 311.6L653.4 308.7L657.0 308.0L659.9 309.4L660.6 313.0L662.8 315.2L664.9 316.6L667.8 318.1L670.0 315.9L671.4 312.3L672.4 308.7L673.3 306.6L674.3 309.4L675.7 312.3L677.2 315.9L678.6 319.5L681.5 322.4L684.3 325.2L686.5 328.1L688.7 331.0L690.1 334.6L691.5 337.5L692.2 340.1M436.4 186.6L439.0 185.3L442.1 184.0L442.5 181.4L442.1 178.8L442.9 176.1L443.8 173.5L445.6 171.8L447.8 170.9L449.5 172.2L450.4 174.4L451.2 176.6L453.0 177.4L455.2 177.0L458.2 177.4L461.8 177.0L464.4 176.6L467.0 175.7L468.8 174.4L470.5 173.9L472.2 174.8L472.7 176.1L470.5 177.4L468.3 177.0L467.0 175.7M453.0 177.4L453.4 179.6L455.2 180.5L456.5 181.4L455.6 182.2L453.9 181.8L452.6 180.5L451.7 181.8L451.2 183.1L450.8 185.8L448.6 187.1L446.0 186.6L443.8 187.1L441.6 187.9L439.4 188.4L437.2 187.9L436.4 186.6M433.8 180.5L435.5 181.8L435.9 183.6L434.6 185.8L433.3 187.1L432.0 186.2M476.6 172.2L477.9 173.9L477.1 175.2M445.6 175.2L446.9 177.0L446.4 179.6L447.3 182.2M281.8 339.0L280.9 343.1L280.0 347.2L279.1 351.4L278.1 355.5L277.7 359.6L277.0 363.8L275.6 366.5L274.9 369.9L274.5 373.4L274.2 376.8L274.9 380.2L276.3 383.0L278.4 385.1L281.1 386.4L283.9 387.8L286.6 388.2L290.1 387.8L292.8 387.4L295.6 387.5M277.0 365.8L278.4 364.4M274.9 372.0L276.3 371.3M274.5 378.9L275.9 378.2M277.7 383.7L279.1 382.3M280.4 387.1L282.5 385.8M323.8 339.0L321.0 341.8L318.2 345.2L315.5 348.6L312.8 350.7L309.3 350.3L305.9 349.7L307.2 352.1L308.6 354.1L306.6 356.2L303.1 357.6L299.7 358.2L298.3 360.3L296.9 362.4L294.2 363.5L292.8 365.8L292.1 368.6L290.8 370.6L288.7 371.7L289.4 373.4L291.4 372.7L292.1 375.0L290.8 376.8L288.0 378.2L286.6 380.2L285.9 383.0L287.3 385.1L289.4 386.9M300.4 381.9L303.1 381.1L306.6 381.6L305.9 383.0L302.4 383.3L300.4 381.9M342.3 386.4L345.1 386.2L346.9 387.1L345.1 387.7L342.3 386.4M283.9 384.4L286.6 383.7L288.7 385.8L291.4 387.1M442.7 339.0L444.1 343.1L445.4 347.2L446.8 349.7L449.6 350.7L453.0 350.0L457.1 349.3L461.2 348.6L464.0 347.2L466.1 345.2L468.1 342.4L470.2 340.4L471.6 339.0M481.2 373.1L481.9 373.6M621.4 339.0L621.9 341.8L622.4 345.2L623.5 347.9L625.6 349.7L629.0 350.3M538.2 376.8L541.0 377.2L541.3 378.6L538.5 378.6L538.2 376.8M629.0 349.4L633.3 349.1L637.6 347.9L641.2 346.2L645.5 345.5L650.6 345.0L654.9 345.5L657.8 346.9L659.9 349.1L662.4 351.9L663.2 349.1L664.2 346.9L665.2 349.8L666.7 352.7L668.5 355.5L671.4 357.4L674.3 358.0L676.4 357.0L678.6 357.7L680.8 358.4L682.9 357.0L685.1 354.8L687.2 352.7L688.7 349.8L690.1 346.9L691.5 343.3L692.2 339.0M675.3 360.3L677.9 359.8L680.8 360.6L683.6 360.9L683.9 363.4L682.5 366.0L680.0 367.0L677.9 365.6L677.2 363.1L675.3 360.3M728.2 350.2L729.6 351.6L731.4 353.4L733.2 355.1L736.1 356.0L739.0 356.2L738.2 358.4L736.1 359.1L735.4 361.3L733.2 362.7L731.4 361.7L731.8 359.1L730.3 357.0L729.3 354.1L728.2 351.9M730.3 362.7L728.2 364.9L725.3 366.6L722.4 368.5L719.6 369.9L717.4 370.9L717.4 372.8L719.6 373.8L722.4 372.8L725.3 370.9L728.2 369.2L730.3 367.0L732.2 364.9L731.8 363.1L730.3 362.7M715.7 380.4L716.7 381.1M82.0 431.1L93.0 431.7L104.0 431.1L115.0 429.8L126.0 428.4L137.0 427.0L145.2 426.2L153.5 424.8L164.5 423.4L175.5 422.1L183.8 420.9L192.0 422.1L203.0 423.1L214.0 423.7L219.5 422.1L223.6 420.4L226.4 422.6L225.0 424.8L230.5 421.5L241.5 420.7L252.5 420.7L263.5 420.4L273.1 420.1L274.5 417.4L277.2 416.0L280.0 419.3L278.6 421.5L274.5 420.1M280.0 416.0L285.5 413.2L289.6 410.5L293.8 408.3L299.2 405.6L302.0 404.4M82.0 433.9L90.2 433.6M302.0 405.0L304.8 403.6L306.9 405.0L305.3 409.1L303.4 414.6L302.8 420.1L302.0 422.9M302.0 400.9L303.6 400.6M307.5 399.5L309.1 399.2M311.6 398.1L313.0 397.9M302.0 424.8L310.2 427.0L318.5 428.9L329.5 430.3L340.5 429.8L351.5 428.4L362.5 426.4L370.8 423.7L379.0 420.9L387.2 418.8L395.5 416.6L403.8 415.4L410.6 413.8L412.0 412.7L414.8 414.9L423.0 414.9L431.2 414.4L439.5 413.8L447.8 414.9L456.0 414.4L464.2 413.8L472.5 413.2L480.8 413.8L489.0 412.7L497.2 411.1L505.5 409.4L513.8 408.6L522.0 410.5M522.0 410.5L530.2 411.1L538.5 411.9L546.8 413.8L552.2 412.7L560.5 409.9L568.8 408.3L577.0 409.1L585.2 407.2L593.5 406.4L601.8 407.2L610.0 408.3L618.2 407.8L626.5 409.1L634.8 407.8L643.0 408.3L651.2 407.8L659.5 407.2L667.8 409.1L676.0 410.5L684.2 412.7L692.5 413.8L700.8 415.4L709.0 417.4L717.2 418.2L724.1 419.3L721.4 421.5L714.5 423.7L710.4 426.4L711.8 429.2L720.0 429.8L731.0 430.3L742.0 431.1M733.8 433.1L742.0 433.1" fill="none" stroke="#000" stroke-width="1.2" stroke-linejoin="round" stroke-linecap="round"/>
</g>
<rect x="82.5" y="123.6" width="659.5" height="1.45" fill="#dcdcdc"/>
<rect x="82.5" y="122.75" width="659.5" height="328.5" fill="none" stroke="#3a3a3a" stroke-width="1.6"/>
<path d="M82.50 451.25v-7.4M82.50 122.75v7.4M100.82 451.25v-3.3M100.82 122.75v3.3M119.14 451.25v-3.3M119.14 122.75v3.3M137.46 451.25v-3.3M137.46 122.75v3.3M155.78 451.25v-3.3M155.78 122.75v3.3M174.10 451.25v-3.3M174.10 122.75v3.3M192.42 451.25v-7.4M192.42 122.75v7.4M210.74 451.25v-3.3M210.74 122.75v3.3M229.06 451.25v-3.3M229.06 122.75v3.3M247.38 451.25v-3.3M247.38 122.75v3.3M265.69 451.25v-3.3M265.69 122.75v3.3M284.01 451.25v-3.3M284.01 122.75v3.3M302.33 451.25v-7.4M302.33 122.75v7.4M320.65 451.25v-3.3M320.65 122.75v3.3M338.97 451.25v-3.3M338.97 122.75v3.3M357.29 451.25v-3.3M357.29 122.75v3.3M375.61 451.25v-3.3M375.61 122.75v3.3M393.93 451.25v-3.3M393.93 122.75v3.3M412.25 451.25v-7.4M412.25 122.75v7.4M430.57 451.25v-3.3M430.57 122.75v3.3M448.89 451.25v-3.3M448.89 122.75v3.3M467.21 451.25v-3.3M467.21 122.75v3.3M485.53 451.25v-3.3M485.53 122.75v3.3M503.85 451.25v-3.3M503.85 122.75v3.3M522.17 451.25v-7.4M522.17 122.75v7.4M540.49 451.25v-3.3M540.49 122.75v3.3M558.81 451.25v-3.3M558.81 122.75v3.3M577.12 451.25v-3.3M577.12 122.75v3.3M595.44 451.25v-3.3M595.44 122.75v3.3M613.76 451.25v-3.3M613.76 122.75v3.3M632.08 451.25v-7.4M632.08 122.75v7.4M650.40 451.25v-3.3M650.40 122.75v3.3M668.72 451.25v-3.3M668.72 122.75v3.3M687.04 451.25v-3.3M687.04 122.75v3.3M705.36 451.25v-3.3M705.36 122.75v3.3M723.68 451.25v-3.3M723.68 122.75v3.3M742.00 451.25v-7.4M742.00 122.75v7.4M82.5 451.25h3.3M742.0 451.25h-3.3M82.5 433.00h7.4M742.0 433.00h-7.4M82.5 414.75h3.3M742.0 414.75h-3.3M82.5 396.50h3.3M742.0 396.50h-3.3M82.5 378.25h3.3M742.0 378.25h-3.3M82.5 360.00h7.4M742.0 360.00h-7.4M82.5 341.75h3.3M742.0 341.75h-3.3M82.5 323.50h3.3M742.0 323.50h-3.3M82.5 305.25h3.3M742.0 305.25h-3.3M82.5 287.00h7.4M742.0 287.00h-7.4M82.5 268.75h3.3M742.0 268.75h-3.3M82.5 250.50h3.3M742.0 250.50h-3.3M82.5 232.25h3.3M742.0 232.25h-3.3M82.5 214.00h7.4M742.0 214.00h-7.4M82.5 195.75h3.3M742.0 195.75h-3.3M82.5 177.50h3.3M742.0 177.50h-3.3M82.5 159.25h3.3M742.0 159.25h-3.3M82.5 141.00h7.4M742.0 141.00h-7.4M82.5 122.75h3.3M742.0 122.75h-3.3" stroke="#111" stroke-width="0.9" fill="none"/>
<rect x="85.00" y="494.5" width="43.97" height="12.5" fill="#8000dc"/>
<rect x="128.67" y="494.5" width="43.97" height="12.5" fill="#6000dc"/>
<rect x="172.33" y="494.5" width="43.97" height="12.5" fill="#4000dc"/>
<rect x="216.00" y="494.5" width="43.97" height="12.5" fill="#0030dc"/>
<rect x="259.67" y="494.5" width="43.97" height="12.5" fill="#0070dc"/>
<rect x="303.33" y="494.5" width="43.97" height="12.5" fill="#0098dc"/>
<rect x="347.00" y="494.5" width="43.97" height="12.5" fill="#00b8dc"/>
<rect x="390.67" y="494.5" width="43.97" height="12.5" fill="#00dcc0"/>
<rect x="434.33" y="494.5" width="43.97" height="12.5" fill="#00dc64"/>
<rect x="478.00" y="494.5" width="43.97" height="12.5" fill="#6edc00"/>
<rect x="521.67" y="494.5" width="43.97" height="12.5" fill="#c8dc00"/>
<rect x="565.33" y="494.5" width="43.97" height="12.5" fill="#e0b400"/>
<rect x="609.00" y="494.5" width="43.97" height="12.5" fill="#e06e00"/>
<rect x="652.67" y="494.5" width="43.97" height="12.5" fill="#e02d00"/>
<rect x="696.33" y="494.5" width="43.97" height="12.5" fill="#e00000"/>
<path d="M128.67 494.5v12.5M172.33 494.5v12.5M216.00 494.5v12.5M259.67 494.5v12.5M303.33 494.5v12.5M347.00 494.5v12.5M390.67 494.5v12.5M434.33 494.5v12.5M478.00 494.5v12.5M521.67 494.5v12.5M565.33 494.5v12.5M609.00 494.5v12.5M652.67 494.5v12.5M696.33 494.5v12.5" stroke="#000" stroke-width="0.8" fill="none"/>
<rect x="85.0" y="494.5" width="655.0" height="12.5" fill="none" stroke="#000" stroke-width="0.8"/>
<g font-family="Liberation Serif, serif" fill="#000" stroke="#000" stroke-width="0.35">
<text x="412.5" y="90.4" font-size="31.3" text-anchor="middle">Ocean Salinity at 5m (in PSU)</text>
<text x="83" y="118.8" font-size="17.4">Expt = tfmHu</text>
<text x="412" y="111.6" font-size="17.2" text-anchor="middle">2240kyr BP</text>
<text x="742.3" y="116.0" font-size="17.6" text-anchor="end">ANN</text>
<text transform="translate(72.6,146.4) scale(0.87,1)" font-size="16.4" text-anchor="end">80N</text>
<text transform="translate(72.6,219.4) scale(0.87,1)" font-size="16.4" text-anchor="end">40N</text>
<text transform="translate(72.6,292.4) scale(0.87,1)" font-size="16.4" text-anchor="end">0</text>
<text transform="translate(72.6,365.4) scale(0.87,1)" font-size="16.4" text-anchor="end">40S</text>
<text transform="translate(72.6,438.4) scale(0.87,1)" font-size="16.4" text-anchor="end">80S</text>
<text transform="translate(82.5,471.8) scale(0.9,1)" font-size="16.0" text-anchor="middle">180</text>
<text transform="translate(192.4,471.8) scale(0.9,1)" font-size="16.0" text-anchor="middle">120W</text>
<text transform="translate(302.3,471.8) scale(0.9,1)" font-size="16.0" text-anchor="middle">60W</text>
<text transform="translate(412.2,471.8) scale(0.9,1)" font-size="16.0" text-anchor="middle">0</text>
<text transform="translate(522.2,471.8) scale(0.9,1)" font-size="16.0" text-anchor="middle">60E</text>
<text transform="translate(632.1,471.8) scale(0.9,1)" font-size="16.0" text-anchor="middle">120E</text>
<text transform="translate(742.0,471.8) scale(0.9,1)" font-size="16.0" text-anchor="middle">180</text>
<text transform="translate(128.7,523.7) scale(0.947,1)" font-size="19.2" text-anchor="middle">25</text>
<text transform="translate(172.3,523.7) scale(0.947,1)" font-size="19.2" text-anchor="middle">30</text>
<text transform="translate(216.0,523.7) scale(0.947,1)" font-size="19.2" text-anchor="middle">32</text>
<text transform="translate(259.7,523.7) scale(0.947,1)" font-size="19.2" text-anchor="middle">34</text>
<text transform="translate(303.3,523.7) scale(0.947,1)" font-size="19.2" text-anchor="middle">34.5</text>
<text transform="translate(347.0,523.7) scale(0.947,1)" font-size="19.2" text-anchor="middle">34.8</text>
<text transform="translate(390.7,523.7) scale(0.947,1)" font-size="19.2" text-anchor="middle">34.9</text>
<text transform="translate(434.3,523.7) scale(0.947,1)" font-size="19.2" text-anchor="middle">35.1</text>
<text transform="translate(478.0,523.7) scale(0.947,1)" font-size="19.2" text-anchor="middle">35.2</text>
<text transform="translate(521.7,523.7) scale(0.947,1)" font-size="19.2" text-anchor="middle">35.5</text>
<text transform="translate(565.3,523.7) scale(0.947,1)" font-size="19.2" text-anchor="middle">36</text>
<text transform="translate(609.0,523.7) scale(0.947,1)" font-size="19.2" text-anchor="middle">38</text>
<text transform="translate(652.7,523.7) scale(0.947,1)" font-size="19.2" text-anchor="middle">40</text>
<text transform="translate(696.3,523.7) scale(0.947,1)" font-size="19.2" text-anchor="middle">45</text>
</g>
</svg>
</body></html>
